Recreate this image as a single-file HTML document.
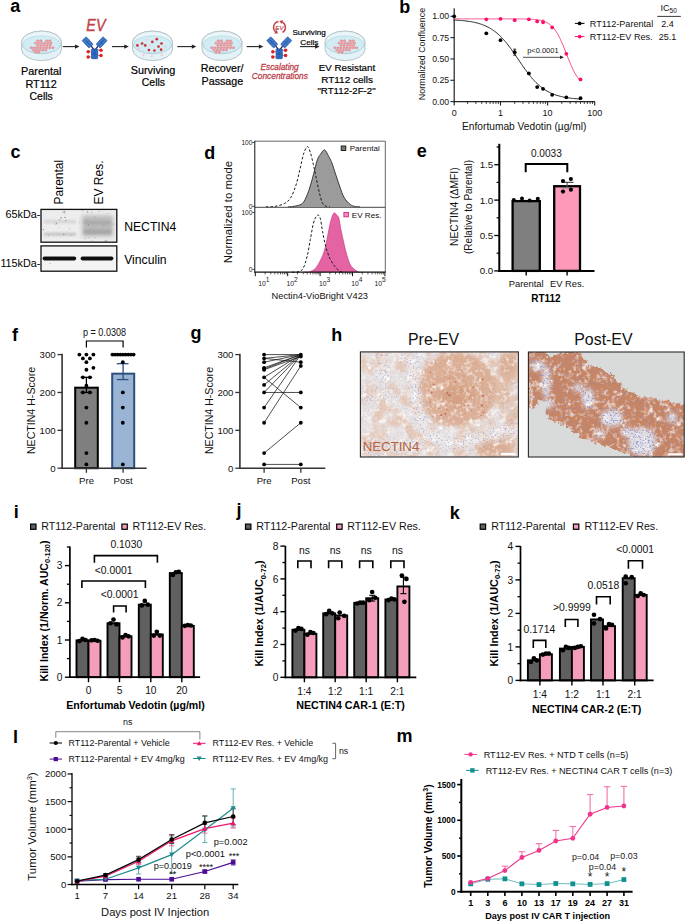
<!DOCTYPE html>
<html><head><meta charset="utf-8"><style>
html,body{margin:0;padding:0;background:#fff;}
body{width:685px;height:921px;overflow:hidden;}
svg{display:block;}
text{font-family:"Liberation Sans", sans-serif;}
</style></head><body>
<svg width="685" height="921" viewBox="0 0 685 921">
<rect width="685" height="921" fill="#fff"/>
<text x="10.3" y="12" font-size="18" font-weight="bold">a</text>
<path d="M21.5,42.4 L21.5,49.3 A20,11.3 0 0 0 61.5,49.3 L61.5,42.4 A20,11.3 0 0 0 21.5,42.4 Z" fill="#e2f2f6" stroke="#a9b7bd" stroke-width="0.8"/>
<ellipse cx="41.5" cy="42.4" rx="20" ry="11.3" fill="#eaf5f8" stroke="#aab8be" stroke-width="0.8"/>
<ellipse cx="41.5" cy="44.5" rx="18.9" ry="8.7" fill="#d2ecf4" stroke="#a9d3e0" stroke-width="0.6"/>
<ellipse cx="37.8" cy="40.8" rx="1.3" ry="0.95" fill="#ee9fa2" stroke="#df7c82" stroke-width="0.5"/>
<ellipse cx="40.9" cy="40.8" rx="1.3" ry="0.95" fill="#ee9fa2" stroke="#df7c82" stroke-width="0.5"/>
<ellipse cx="46.7" cy="40.8" rx="1.3" ry="0.95" fill="#ee9fa2" stroke="#df7c82" stroke-width="0.5"/>
<ellipse cx="49.8" cy="40.8" rx="1.3" ry="0.95" fill="#ee9fa2" stroke="#df7c82" stroke-width="0.5"/>
<ellipse cx="35.5" cy="43.1" rx="1.3" ry="0.95" fill="#ee9fa2" stroke="#df7c82" stroke-width="0.5"/>
<ellipse cx="38.6" cy="43.1" rx="1.3" ry="0.95" fill="#ee9fa2" stroke="#df7c82" stroke-width="0.5"/>
<ellipse cx="41.7" cy="43.1" rx="1.3" ry="0.95" fill="#ee9fa2" stroke="#df7c82" stroke-width="0.5"/>
<ellipse cx="44.8" cy="43.1" rx="1.3" ry="0.95" fill="#ee9fa2" stroke="#df7c82" stroke-width="0.5"/>
<ellipse cx="47.9" cy="43.1" rx="1.3" ry="0.95" fill="#ee9fa2" stroke="#df7c82" stroke-width="0.5"/>
<ellipse cx="51" cy="43.1" rx="1.3" ry="0.95" fill="#ee9fa2" stroke="#df7c82" stroke-width="0.5"/>
<ellipse cx="37.5" cy="45.4" rx="1.3" ry="0.95" fill="#ee9fa2" stroke="#df7c82" stroke-width="0.5"/>
<ellipse cx="40.6" cy="45.4" rx="1.3" ry="0.95" fill="#ee9fa2" stroke="#df7c82" stroke-width="0.5"/>
<ellipse cx="43.7" cy="45.4" rx="1.3" ry="0.95" fill="#ee9fa2" stroke="#df7c82" stroke-width="0.5"/>
<ellipse cx="46.8" cy="45.4" rx="1.3" ry="0.95" fill="#ee9fa2" stroke="#df7c82" stroke-width="0.5"/>
<ellipse cx="49.9" cy="45.4" rx="1.3" ry="0.95" fill="#ee9fa2" stroke="#df7c82" stroke-width="0.5"/>
<ellipse cx="31.3" cy="47.8" rx="1.3" ry="0.95" fill="#ee9fa2" stroke="#df7c82" stroke-width="0.5"/>
<ellipse cx="34.4" cy="47.8" rx="1.3" ry="0.95" fill="#ee9fa2" stroke="#df7c82" stroke-width="0.5"/>
<ellipse cx="37.5" cy="47.8" rx="1.3" ry="0.95" fill="#ee9fa2" stroke="#df7c82" stroke-width="0.5"/>
<ellipse cx="40.6" cy="47.8" rx="1.3" ry="0.95" fill="#ee9fa2" stroke="#df7c82" stroke-width="0.5"/>
<ellipse cx="43.7" cy="47.8" rx="1.3" ry="0.95" fill="#ee9fa2" stroke="#df7c82" stroke-width="0.5"/>
<ellipse cx="46.8" cy="47.8" rx="1.3" ry="0.95" fill="#ee9fa2" stroke="#df7c82" stroke-width="0.5"/>
<ellipse cx="49.9" cy="47.8" rx="1.3" ry="0.95" fill="#ee9fa2" stroke="#df7c82" stroke-width="0.5"/>
<ellipse cx="53" cy="47.8" rx="1.3" ry="0.95" fill="#ee9fa2" stroke="#df7c82" stroke-width="0.5"/>
<ellipse cx="33.4" cy="50.1" rx="1.3" ry="0.95" fill="#ee9fa2" stroke="#df7c82" stroke-width="0.5"/>
<ellipse cx="36.5" cy="50.1" rx="1.3" ry="0.95" fill="#ee9fa2" stroke="#df7c82" stroke-width="0.5"/>
<ellipse cx="39.6" cy="50.1" rx="1.3" ry="0.95" fill="#ee9fa2" stroke="#df7c82" stroke-width="0.5"/>
<ellipse cx="42.7" cy="50.1" rx="1.3" ry="0.95" fill="#ee9fa2" stroke="#df7c82" stroke-width="0.5"/>
<ellipse cx="45.8" cy="50.1" rx="1.3" ry="0.95" fill="#ee9fa2" stroke="#df7c82" stroke-width="0.5"/>
<ellipse cx="35.5" cy="52.2" rx="1.3" ry="0.95" fill="#ee9fa2" stroke="#df7c82" stroke-width="0.5"/>
<ellipse cx="38.6" cy="52.2" rx="1.3" ry="0.95" fill="#ee9fa2" stroke="#df7c82" stroke-width="0.5"/>
<path d="M132.5,42.4 L132.5,49.3 A20,11.3 0 0 0 172.5,49.3 L172.5,42.4 A20,11.3 0 0 0 132.5,42.4 Z" fill="#e2f2f6" stroke="#a9b7bd" stroke-width="0.8"/>
<ellipse cx="152.5" cy="42.4" rx="20" ry="11.3" fill="#eaf5f8" stroke="#aab8be" stroke-width="0.8"/>
<ellipse cx="152.5" cy="44.5" rx="18.9" ry="8.7" fill="#d2ecf4" stroke="#a9d3e0" stroke-width="0.6"/>
<circle cx="143.5" cy="55.2" r="1.1" fill="#f3c9cc" stroke="none" stroke-width="1"/>
<circle cx="151.9" cy="56.2" r="1.1" fill="#f3c9cc" stroke="none" stroke-width="1"/>
<circle cx="161.9" cy="55.2" r="1.1" fill="#f3c9cc" stroke="none" stroke-width="1"/>
<circle cx="146.2" cy="39.9" r="1.1" fill="#f3c9cc" stroke="none" stroke-width="1"/>
<circle cx="165.6" cy="46.6" r="1.1" fill="#f3c9cc" stroke="none" stroke-width="1"/>
<circle cx="139" cy="48.6" r="1.1" fill="#f3c9cc" stroke="none" stroke-width="1"/>
<circle cx="150" cy="45.5" r="1.1" fill="#f3c9cc" stroke="none" stroke-width="1"/>
<circle cx="137.4" cy="45.4" r="1.35" fill="#cf2f3a" stroke="none" stroke-width="1"/>
<circle cx="142.1" cy="43.5" r="1.35" fill="#cf2f3a" stroke="none" stroke-width="1"/>
<circle cx="145.2" cy="45.4" r="1.35" fill="#cf2f3a" stroke="none" stroke-width="1"/>
<circle cx="152.3" cy="41.9" r="1.35" fill="#cf2f3a" stroke="none" stroke-width="1"/>
<circle cx="156.8" cy="39.2" r="1.35" fill="#cf2f3a" stroke="none" stroke-width="1"/>
<circle cx="161.5" cy="43.5" r="1.35" fill="#cf2f3a" stroke="none" stroke-width="1"/>
<circle cx="158.5" cy="46.6" r="1.35" fill="#cf2f3a" stroke="none" stroke-width="1"/>
<circle cx="148.9" cy="50.1" r="1.35" fill="#cf2f3a" stroke="none" stroke-width="1"/>
<circle cx="154.4" cy="50.5" r="1.35" fill="#cf2f3a" stroke="none" stroke-width="1"/>
<circle cx="161.1" cy="49.7" r="1.35" fill="#cf2f3a" stroke="none" stroke-width="1"/>
<path d="M202,42.4 L202,49.3 A20,11.3 0 0 0 242,49.3 L242,42.4 A20,11.3 0 0 0 202,42.4 Z" fill="#e2f2f6" stroke="#a9b7bd" stroke-width="0.8"/>
<ellipse cx="222" cy="42.4" rx="20" ry="11.3" fill="#eaf5f8" stroke="#aab8be" stroke-width="0.8"/>
<ellipse cx="222" cy="44.5" rx="18.9" ry="8.7" fill="#d2ecf4" stroke="#a9d3e0" stroke-width="0.6"/>
<ellipse cx="218.3" cy="40.8" rx="1.3" ry="0.95" fill="#ee9fa2" stroke="#df7c82" stroke-width="0.5"/>
<ellipse cx="221.4" cy="40.8" rx="1.3" ry="0.95" fill="#ee9fa2" stroke="#df7c82" stroke-width="0.5"/>
<ellipse cx="227.2" cy="40.8" rx="1.3" ry="0.95" fill="#ee9fa2" stroke="#df7c82" stroke-width="0.5"/>
<ellipse cx="230.3" cy="40.8" rx="1.3" ry="0.95" fill="#ee9fa2" stroke="#df7c82" stroke-width="0.5"/>
<ellipse cx="216" cy="43.1" rx="1.3" ry="0.95" fill="#ee9fa2" stroke="#df7c82" stroke-width="0.5"/>
<ellipse cx="219.1" cy="43.1" rx="1.3" ry="0.95" fill="#ee9fa2" stroke="#df7c82" stroke-width="0.5"/>
<ellipse cx="222.2" cy="43.1" rx="1.3" ry="0.95" fill="#ee9fa2" stroke="#df7c82" stroke-width="0.5"/>
<ellipse cx="225.3" cy="43.1" rx="1.3" ry="0.95" fill="#ee9fa2" stroke="#df7c82" stroke-width="0.5"/>
<ellipse cx="228.4" cy="43.1" rx="1.3" ry="0.95" fill="#ee9fa2" stroke="#df7c82" stroke-width="0.5"/>
<ellipse cx="231.5" cy="43.1" rx="1.3" ry="0.95" fill="#ee9fa2" stroke="#df7c82" stroke-width="0.5"/>
<ellipse cx="218" cy="45.4" rx="1.3" ry="0.95" fill="#ee9fa2" stroke="#df7c82" stroke-width="0.5"/>
<ellipse cx="221.1" cy="45.4" rx="1.3" ry="0.95" fill="#ee9fa2" stroke="#df7c82" stroke-width="0.5"/>
<ellipse cx="224.2" cy="45.4" rx="1.3" ry="0.95" fill="#ee9fa2" stroke="#df7c82" stroke-width="0.5"/>
<ellipse cx="227.3" cy="45.4" rx="1.3" ry="0.95" fill="#ee9fa2" stroke="#df7c82" stroke-width="0.5"/>
<ellipse cx="230.4" cy="45.4" rx="1.3" ry="0.95" fill="#ee9fa2" stroke="#df7c82" stroke-width="0.5"/>
<ellipse cx="211.8" cy="47.8" rx="1.3" ry="0.95" fill="#ee9fa2" stroke="#df7c82" stroke-width="0.5"/>
<ellipse cx="214.9" cy="47.8" rx="1.3" ry="0.95" fill="#ee9fa2" stroke="#df7c82" stroke-width="0.5"/>
<ellipse cx="218" cy="47.8" rx="1.3" ry="0.95" fill="#ee9fa2" stroke="#df7c82" stroke-width="0.5"/>
<ellipse cx="221.1" cy="47.8" rx="1.3" ry="0.95" fill="#ee9fa2" stroke="#df7c82" stroke-width="0.5"/>
<ellipse cx="224.2" cy="47.8" rx="1.3" ry="0.95" fill="#ee9fa2" stroke="#df7c82" stroke-width="0.5"/>
<ellipse cx="227.3" cy="47.8" rx="1.3" ry="0.95" fill="#ee9fa2" stroke="#df7c82" stroke-width="0.5"/>
<ellipse cx="230.4" cy="47.8" rx="1.3" ry="0.95" fill="#ee9fa2" stroke="#df7c82" stroke-width="0.5"/>
<ellipse cx="233.5" cy="47.8" rx="1.3" ry="0.95" fill="#ee9fa2" stroke="#df7c82" stroke-width="0.5"/>
<ellipse cx="213.9" cy="50.1" rx="1.3" ry="0.95" fill="#ee9fa2" stroke="#df7c82" stroke-width="0.5"/>
<ellipse cx="217" cy="50.1" rx="1.3" ry="0.95" fill="#ee9fa2" stroke="#df7c82" stroke-width="0.5"/>
<ellipse cx="220.1" cy="50.1" rx="1.3" ry="0.95" fill="#ee9fa2" stroke="#df7c82" stroke-width="0.5"/>
<ellipse cx="223.2" cy="50.1" rx="1.3" ry="0.95" fill="#ee9fa2" stroke="#df7c82" stroke-width="0.5"/>
<ellipse cx="226.3" cy="50.1" rx="1.3" ry="0.95" fill="#ee9fa2" stroke="#df7c82" stroke-width="0.5"/>
<ellipse cx="216" cy="52.2" rx="1.3" ry="0.95" fill="#ee9fa2" stroke="#df7c82" stroke-width="0.5"/>
<ellipse cx="219.1" cy="52.2" rx="1.3" ry="0.95" fill="#ee9fa2" stroke="#df7c82" stroke-width="0.5"/>
<path d="M325,42.4 L325,49.3 A20,11.3 0 0 0 365,49.3 L365,42.4 A20,11.3 0 0 0 325,42.4 Z" fill="#e2f2f6" stroke="#a9b7bd" stroke-width="0.8"/>
<ellipse cx="345" cy="42.4" rx="20" ry="11.3" fill="#eaf5f8" stroke="#aab8be" stroke-width="0.8"/>
<ellipse cx="345" cy="44.5" rx="18.9" ry="8.7" fill="#d2ecf4" stroke="#a9d3e0" stroke-width="0.6"/>
<ellipse cx="341.3" cy="40.8" rx="1.3" ry="0.95" fill="#ee9fa2" stroke="#df7c82" stroke-width="0.5"/>
<ellipse cx="344.4" cy="40.8" rx="1.3" ry="0.95" fill="#ee9fa2" stroke="#df7c82" stroke-width="0.5"/>
<ellipse cx="350.2" cy="40.8" rx="1.3" ry="0.95" fill="#ee9fa2" stroke="#df7c82" stroke-width="0.5"/>
<ellipse cx="353.3" cy="40.8" rx="1.3" ry="0.95" fill="#ee9fa2" stroke="#df7c82" stroke-width="0.5"/>
<ellipse cx="339" cy="43.1" rx="1.3" ry="0.95" fill="#ee9fa2" stroke="#df7c82" stroke-width="0.5"/>
<ellipse cx="342.1" cy="43.1" rx="1.3" ry="0.95" fill="#ee9fa2" stroke="#df7c82" stroke-width="0.5"/>
<ellipse cx="345.2" cy="43.1" rx="1.3" ry="0.95" fill="#ee9fa2" stroke="#df7c82" stroke-width="0.5"/>
<ellipse cx="348.3" cy="43.1" rx="1.3" ry="0.95" fill="#ee9fa2" stroke="#df7c82" stroke-width="0.5"/>
<ellipse cx="351.4" cy="43.1" rx="1.3" ry="0.95" fill="#ee9fa2" stroke="#df7c82" stroke-width="0.5"/>
<ellipse cx="354.5" cy="43.1" rx="1.3" ry="0.95" fill="#ee9fa2" stroke="#df7c82" stroke-width="0.5"/>
<ellipse cx="341" cy="45.4" rx="1.3" ry="0.95" fill="#ee9fa2" stroke="#df7c82" stroke-width="0.5"/>
<ellipse cx="344.1" cy="45.4" rx="1.3" ry="0.95" fill="#ee9fa2" stroke="#df7c82" stroke-width="0.5"/>
<ellipse cx="347.2" cy="45.4" rx="1.3" ry="0.95" fill="#ee9fa2" stroke="#df7c82" stroke-width="0.5"/>
<ellipse cx="350.3" cy="45.4" rx="1.3" ry="0.95" fill="#ee9fa2" stroke="#df7c82" stroke-width="0.5"/>
<ellipse cx="353.4" cy="45.4" rx="1.3" ry="0.95" fill="#ee9fa2" stroke="#df7c82" stroke-width="0.5"/>
<ellipse cx="334.8" cy="47.8" rx="1.3" ry="0.95" fill="#ee9fa2" stroke="#df7c82" stroke-width="0.5"/>
<ellipse cx="337.9" cy="47.8" rx="1.3" ry="0.95" fill="#ee9fa2" stroke="#df7c82" stroke-width="0.5"/>
<ellipse cx="341" cy="47.8" rx="1.3" ry="0.95" fill="#ee9fa2" stroke="#df7c82" stroke-width="0.5"/>
<ellipse cx="344.1" cy="47.8" rx="1.3" ry="0.95" fill="#ee9fa2" stroke="#df7c82" stroke-width="0.5"/>
<ellipse cx="347.2" cy="47.8" rx="1.3" ry="0.95" fill="#ee9fa2" stroke="#df7c82" stroke-width="0.5"/>
<ellipse cx="350.3" cy="47.8" rx="1.3" ry="0.95" fill="#ee9fa2" stroke="#df7c82" stroke-width="0.5"/>
<ellipse cx="353.4" cy="47.8" rx="1.3" ry="0.95" fill="#ee9fa2" stroke="#df7c82" stroke-width="0.5"/>
<ellipse cx="356.5" cy="47.8" rx="1.3" ry="0.95" fill="#ee9fa2" stroke="#df7c82" stroke-width="0.5"/>
<ellipse cx="336.9" cy="50.1" rx="1.3" ry="0.95" fill="#ee9fa2" stroke="#df7c82" stroke-width="0.5"/>
<ellipse cx="340" cy="50.1" rx="1.3" ry="0.95" fill="#ee9fa2" stroke="#df7c82" stroke-width="0.5"/>
<ellipse cx="343.1" cy="50.1" rx="1.3" ry="0.95" fill="#ee9fa2" stroke="#df7c82" stroke-width="0.5"/>
<ellipse cx="346.2" cy="50.1" rx="1.3" ry="0.95" fill="#ee9fa2" stroke="#df7c82" stroke-width="0.5"/>
<ellipse cx="349.3" cy="50.1" rx="1.3" ry="0.95" fill="#ee9fa2" stroke="#df7c82" stroke-width="0.5"/>
<ellipse cx="339" cy="52.2" rx="1.3" ry="0.95" fill="#ee9fa2" stroke="#df7c82" stroke-width="0.5"/>
<ellipse cx="342.1" cy="52.2" rx="1.3" ry="0.95" fill="#ee9fa2" stroke="#df7c82" stroke-width="0.5"/>
<line x1="62.8" y1="46.6" x2="76.5" y2="46.6" stroke="#222" stroke-width="1.1"/>
<polygon points="79.5,46.6 75,44.4 75,48.8" fill="#222" stroke="none" stroke-width="1"/>
<line x1="112" y1="46.6" x2="125.8" y2="46.6" stroke="#222" stroke-width="1.1"/>
<polygon points="128.8,46.6 124.3,44.4 124.3,48.8" fill="#222" stroke="none" stroke-width="1"/>
<line x1="177.3" y1="46.6" x2="193.3" y2="46.6" stroke="#222" stroke-width="1.1"/>
<polygon points="196.3,46.6 191.8,44.4 191.8,48.8" fill="#222" stroke="none" stroke-width="1"/>
<line x1="246.6" y1="46.6" x2="260.4" y2="46.6" stroke="#222" stroke-width="1.1"/>
<polygon points="263.4,46.6 258.9,44.4 258.9,48.8" fill="#222" stroke="none" stroke-width="1"/>
<line x1="300" y1="46.6" x2="316.6" y2="46.6" stroke="#222" stroke-width="1.1"/>
<polygon points="319.6,46.6 315.1,44.4 315.1,48.8" fill="#222" stroke="none" stroke-width="1"/>
<g transform="translate(87.6 42.4) rotate(47)">
<rect x="-5.2" y="-2.85" width="10.4" height="2.75" rx="1.1" fill="#2f6fc6" stroke="#1c4d9e" stroke-width="0.6"/>
<rect x="-5.2" y="0.1" width="10.4" height="2.75" rx="1.1" fill="#2f6fc6" stroke="#1c4d9e" stroke-width="0.6"/>
<line x1="-4.4" y1="-1.5" x2="4.4" y2="-1.5" stroke="#7ea6da" stroke-width="0.45"/>
<line x1="-4.4" y1="1.5" x2="4.4" y2="1.5" stroke="#7ea6da" stroke-width="0.45"/>
<line x1="-0.3" y1="-2.85" x2="-0.3" y2="2.85" stroke="#1c4d9e" stroke-width="0.5"/>
</g>
<g transform="translate(101.6 42.4) rotate(-47)">
<rect x="-5.2" y="-2.85" width="10.4" height="2.75" rx="1.1" fill="#2f6fc6" stroke="#1c4d9e" stroke-width="0.6"/>
<rect x="-5.2" y="0.1" width="10.4" height="2.75" rx="1.1" fill="#2f6fc6" stroke="#1c4d9e" stroke-width="0.6"/>
<line x1="-4.4" y1="-1.5" x2="4.4" y2="-1.5" stroke="#7ea6da" stroke-width="0.45"/>
<line x1="-4.4" y1="1.5" x2="4.4" y2="1.5" stroke="#7ea6da" stroke-width="0.45"/>
<line x1="-0.3" y1="-2.85" x2="-0.3" y2="2.85" stroke="#1c4d9e" stroke-width="0.5"/>
</g>
<polyline points="91.2,46.2 93.7,49.4" stroke="#2b1f66" stroke-width="1.3" fill="none"/>
<polyline points="98,46.2 95.5,49.4" stroke="#2b1f66" stroke-width="1.3" fill="none"/>
<rect x="91.5" y="49" width="6.2" height="9.7" fill="#2f6fc6" stroke="#1c4d9e" stroke-width="0.7" rx="0.6"/>
<line x1="94.6" y1="49" x2="94.6" y2="58.7" stroke="#1c4d9e" stroke-width="0.6"/>
<line x1="91.5" y1="53.9" x2="97.7" y2="53.9" stroke="#1c4d9e" stroke-width="0.5"/>
<line x1="91.5" y1="51.7" x2="88.2" y2="51.7" stroke="#444" stroke-width="0.5"/>
<circle cx="88.2" cy="51.7" r="1.75" fill="#dd1f26" stroke="none" stroke-width="1"/>
<line x1="91.5" y1="57" x2="88.2" y2="57" stroke="#444" stroke-width="0.5"/>
<circle cx="88.2" cy="57" r="1.75" fill="#dd1f26" stroke="none" stroke-width="1"/>
<line x1="97.7" y1="50.2" x2="101" y2="50.2" stroke="#444" stroke-width="0.5"/>
<circle cx="101" cy="50.2" r="1.75" fill="#dd1f26" stroke="none" stroke-width="1"/>
<line x1="97.7" y1="55.5" x2="101" y2="55.5" stroke="#444" stroke-width="0.5"/>
<circle cx="101" cy="55.5" r="1.75" fill="#dd1f26" stroke="none" stroke-width="1"/>
<g transform="translate(272.2 42.4) rotate(47)">
<rect x="-5.2" y="-2.85" width="10.4" height="2.75" rx="1.1" fill="#2f6fc6" stroke="#1c4d9e" stroke-width="0.6"/>
<rect x="-5.2" y="0.1" width="10.4" height="2.75" rx="1.1" fill="#2f6fc6" stroke="#1c4d9e" stroke-width="0.6"/>
<line x1="-4.4" y1="-1.5" x2="4.4" y2="-1.5" stroke="#7ea6da" stroke-width="0.45"/>
<line x1="-4.4" y1="1.5" x2="4.4" y2="1.5" stroke="#7ea6da" stroke-width="0.45"/>
<line x1="-0.3" y1="-2.85" x2="-0.3" y2="2.85" stroke="#1c4d9e" stroke-width="0.5"/>
</g>
<g transform="translate(286.2 42.4) rotate(-47)">
<rect x="-5.2" y="-2.85" width="10.4" height="2.75" rx="1.1" fill="#2f6fc6" stroke="#1c4d9e" stroke-width="0.6"/>
<rect x="-5.2" y="0.1" width="10.4" height="2.75" rx="1.1" fill="#2f6fc6" stroke="#1c4d9e" stroke-width="0.6"/>
<line x1="-4.4" y1="-1.5" x2="4.4" y2="-1.5" stroke="#7ea6da" stroke-width="0.45"/>
<line x1="-4.4" y1="1.5" x2="4.4" y2="1.5" stroke="#7ea6da" stroke-width="0.45"/>
<line x1="-0.3" y1="-2.85" x2="-0.3" y2="2.85" stroke="#1c4d9e" stroke-width="0.5"/>
</g>
<polyline points="275.8,46.2 278.3,49.4" stroke="#2b1f66" stroke-width="1.3" fill="none"/>
<polyline points="282.6,46.2 280.1,49.4" stroke="#2b1f66" stroke-width="1.3" fill="none"/>
<rect x="276.1" y="49" width="6.2" height="9.7" fill="#2f6fc6" stroke="#1c4d9e" stroke-width="0.7" rx="0.6"/>
<line x1="279.2" y1="49" x2="279.2" y2="58.7" stroke="#1c4d9e" stroke-width="0.6"/>
<line x1="276.1" y1="53.9" x2="282.3" y2="53.9" stroke="#1c4d9e" stroke-width="0.5"/>
<line x1="276.1" y1="51.7" x2="272.8" y2="51.7" stroke="#444" stroke-width="0.5"/>
<circle cx="272.8" cy="51.7" r="1.75" fill="#dd1f26" stroke="none" stroke-width="1"/>
<line x1="276.1" y1="57" x2="272.8" y2="57" stroke="#444" stroke-width="0.5"/>
<circle cx="272.8" cy="57" r="1.75" fill="#dd1f26" stroke="none" stroke-width="1"/>
<line x1="282.3" y1="50.2" x2="285.6" y2="50.2" stroke="#444" stroke-width="0.5"/>
<circle cx="285.6" cy="50.2" r="1.75" fill="#dd1f26" stroke="none" stroke-width="1"/>
<line x1="282.3" y1="55.5" x2="285.6" y2="55.5" stroke="#444" stroke-width="0.5"/>
<circle cx="285.6" cy="55.5" r="1.75" fill="#dd1f26" stroke="none" stroke-width="1"/>
<text x="86.3" y="31" font-size="16.8" font-style="italic" fill="#c0454c" stroke="#c0454c" stroke-width="0.45" textLength="19.2" lengthAdjust="spacingAndGlyphs">EV</text>
<path d="M278.48,21.49 A5.9,5.9 0 0 0 276.12,32.13" fill="none" stroke="#c0454c" stroke-width="1.5"/>
<polygon points="278,33.45 274.2,33.48 276.72,29.87" fill="#c0454c" stroke="none" stroke-width="1"/>
<path d="M282.45,32.41 A5.9,5.9 0 0 0 281.52,21.76" fill="none" stroke="#c0454c" stroke-width="1.5"/>
<polygon points="279.36,20.97 283.02,19.96 281.52,24.1" fill="#c0454c" stroke="none" stroke-width="1"/>
<text x="279.4" y="29.6" font-size="6.2" text-anchor="middle" font-style="italic" fill="#c0454c" stroke="#c0454c" stroke-width="0.2">EV</text>
<text x="41.2" y="74.7" font-size="10.7" text-anchor="middle" stroke="#000" stroke-width="0.2" textLength="40.4" lengthAdjust="spacingAndGlyphs">Parental</text>
<text x="41.15" y="87.9" font-size="10.7" text-anchor="middle" stroke="#000" stroke-width="0.2" textLength="31.5" lengthAdjust="spacingAndGlyphs">RT112</text>
<text x="41.15" y="100.4" font-size="10.7" text-anchor="middle" stroke="#000" stroke-width="0.2" textLength="23.3" lengthAdjust="spacingAndGlyphs">Cells</text>
<text x="153" y="74.2" font-size="10.7" text-anchor="middle" stroke="#000" stroke-width="0.2" textLength="44.4" lengthAdjust="spacingAndGlyphs">Surviving</text>
<text x="153.45" y="86.1" font-size="10.7" text-anchor="middle" stroke="#000" stroke-width="0.2" textLength="23.3" lengthAdjust="spacingAndGlyphs">Cells</text>
<text x="222.15" y="72.4" font-size="10.7" text-anchor="middle" stroke="#000" stroke-width="0.2" textLength="42.9" lengthAdjust="spacingAndGlyphs">Recover/</text>
<text x="222.4" y="84.6" font-size="10.7" text-anchor="middle" stroke="#000" stroke-width="0.2" textLength="41.6" lengthAdjust="spacingAndGlyphs">Passage</text>
<text x="347" y="71.4" font-size="9.8" text-anchor="middle" stroke="#000" stroke-width="0.2" textLength="56.4" lengthAdjust="spacingAndGlyphs">EV Resistant</text>
<text x="347.05" y="83.2" font-size="9.8" text-anchor="middle" stroke="#000" stroke-width="0.2" textLength="51.7" lengthAdjust="spacingAndGlyphs">RT112 cells</text>
<text x="346.55" y="94.2" font-size="9.8" text-anchor="middle" stroke="#000" stroke-width="0.2" textLength="58.3" lengthAdjust="spacingAndGlyphs">"RT112-2F-2"</text>
<text x="279.6" y="69.6" font-size="9.6" text-anchor="middle" font-style="italic" fill="#bb4049" stroke="#bb4049" stroke-width="0.3" textLength="38.2" lengthAdjust="spacingAndGlyphs">Escalating</text>
<text x="279.85" y="79" font-size="9.6" text-anchor="middle" font-style="italic" fill="#bb4049" stroke="#bb4049" stroke-width="0.3" textLength="56" lengthAdjust="spacingAndGlyphs">Concentrations</text>
<text x="309.05" y="34.6" font-size="8.1" text-anchor="middle" stroke="#000" stroke-width="0.2" textLength="33.3" lengthAdjust="spacingAndGlyphs">Surviving</text>
<text x="309.3" y="44.5" font-size="8.1" text-anchor="middle" stroke="#000" stroke-width="0.2">Cells</text>
<text x="399.3" y="12.9" font-size="18" font-weight="bold">b</text>
<line x1="454.2" y1="8.2" x2="454.2" y2="102.2" stroke="#222" stroke-width="1.2"/>
<line x1="453.6" y1="101.6" x2="594.9" y2="101.6" stroke="#222" stroke-width="1.2"/>
<line x1="450.4" y1="16.3" x2="454.2" y2="16.3" stroke="#222" stroke-width="1.1"/>
<text x="449.2" y="19.4" font-size="8.7" text-anchor="end" fill="#111">1.00</text>
<line x1="450.4" y1="37.62" x2="454.2" y2="37.62" stroke="#222" stroke-width="1.1"/>
<text x="449.2" y="40.73" font-size="8.7" text-anchor="end" fill="#111">0.75</text>
<line x1="450.4" y1="58.95" x2="454.2" y2="58.95" stroke="#222" stroke-width="1.1"/>
<text x="449.2" y="62.05" font-size="8.7" text-anchor="end" fill="#111">0.50</text>
<line x1="450.4" y1="80.27" x2="454.2" y2="80.27" stroke="#222" stroke-width="1.1"/>
<text x="449.2" y="83.37" font-size="8.7" text-anchor="end" fill="#111">0.25</text>
<line x1="450.4" y1="101.6" x2="454.2" y2="101.6" stroke="#222" stroke-width="1.1"/>
<text x="449.2" y="104.7" font-size="8.7" text-anchor="end" fill="#111">0.00</text>
<line x1="454.2" y1="101.6" x2="454.2" y2="105.6" stroke="#222" stroke-width="1.1"/>
<text x="454.2" y="115.6" font-size="9" text-anchor="middle" fill="#111">0</text>
<line x1="500.5" y1="101.6" x2="500.5" y2="105.6" stroke="#222" stroke-width="1.1"/>
<text x="500.5" y="115.6" font-size="9" text-anchor="middle" fill="#111">1</text>
<line x1="547.6" y1="101.6" x2="547.6" y2="105.6" stroke="#222" stroke-width="1.1"/>
<text x="547.6" y="115.6" font-size="9" text-anchor="middle" fill="#111">10</text>
<line x1="594.7" y1="101.6" x2="594.7" y2="105.6" stroke="#222" stroke-width="1.1"/>
<text x="594.7" y="115.6" font-size="9" text-anchor="middle" fill="#111">100</text>
<line x1="467.58" y1="101.6" x2="467.58" y2="103.9" stroke="#222" stroke-width="0.9"/>
<line x1="475.87" y1="101.6" x2="475.87" y2="103.9" stroke="#222" stroke-width="0.9"/>
<line x1="481.76" y1="101.6" x2="481.76" y2="103.9" stroke="#222" stroke-width="0.9"/>
<line x1="486.32" y1="101.6" x2="486.32" y2="103.9" stroke="#222" stroke-width="0.9"/>
<line x1="490.05" y1="101.6" x2="490.05" y2="103.9" stroke="#222" stroke-width="0.9"/>
<line x1="493.2" y1="101.6" x2="493.2" y2="103.9" stroke="#222" stroke-width="0.9"/>
<line x1="495.94" y1="101.6" x2="495.94" y2="103.9" stroke="#222" stroke-width="0.9"/>
<line x1="498.34" y1="101.6" x2="498.34" y2="103.9" stroke="#222" stroke-width="0.9"/>
<line x1="514.68" y1="101.6" x2="514.68" y2="103.9" stroke="#222" stroke-width="0.9"/>
<line x1="522.97" y1="101.6" x2="522.97" y2="103.9" stroke="#222" stroke-width="0.9"/>
<line x1="528.86" y1="101.6" x2="528.86" y2="103.9" stroke="#222" stroke-width="0.9"/>
<line x1="533.42" y1="101.6" x2="533.42" y2="103.9" stroke="#222" stroke-width="0.9"/>
<line x1="537.15" y1="101.6" x2="537.15" y2="103.9" stroke="#222" stroke-width="0.9"/>
<line x1="540.3" y1="101.6" x2="540.3" y2="103.9" stroke="#222" stroke-width="0.9"/>
<line x1="543.04" y1="101.6" x2="543.04" y2="103.9" stroke="#222" stroke-width="0.9"/>
<line x1="545.44" y1="101.6" x2="545.44" y2="103.9" stroke="#222" stroke-width="0.9"/>
<line x1="561.78" y1="101.6" x2="561.78" y2="103.9" stroke="#222" stroke-width="0.9"/>
<line x1="570.07" y1="101.6" x2="570.07" y2="103.9" stroke="#222" stroke-width="0.9"/>
<line x1="575.96" y1="101.6" x2="575.96" y2="103.9" stroke="#222" stroke-width="0.9"/>
<line x1="580.52" y1="101.6" x2="580.52" y2="103.9" stroke="#222" stroke-width="0.9"/>
<line x1="584.25" y1="101.6" x2="584.25" y2="103.9" stroke="#222" stroke-width="0.9"/>
<line x1="587.4" y1="101.6" x2="587.4" y2="103.9" stroke="#222" stroke-width="0.9"/>
<line x1="590.14" y1="101.6" x2="590.14" y2="103.9" stroke="#222" stroke-width="0.9"/>
<line x1="592.54" y1="101.6" x2="592.54" y2="103.9" stroke="#222" stroke-width="0.9"/>
<text x="524.2" y="129.8" font-size="10.2" text-anchor="middle" fill="#111">Enfortumab Vedotin (µg/ml)</text>
<text x="425.4" y="54" font-size="8.9" text-anchor="middle" fill="#111" transform="rotate(-90 425.4 54)">Normalized Confluence</text>
<polyline points="453.4,19.97 454.31,20.01 455.22,20.06 456.13,20.11 457.03,20.17 457.94,20.23 458.85,20.3 459.76,20.36 460.67,20.44 461.58,20.52 462.48,20.6 463.39,20.69 464.3,20.78 465.21,20.88 466.12,20.99 467.03,21.11 467.93,21.23 468.84,21.36 469.75,21.5 470.66,21.64 471.57,21.8 472.48,21.97 473.38,22.15 474.29,22.34 475.2,22.54 476.11,22.75 477.02,22.98 477.93,23.22 478.83,23.48 479.74,23.75 480.65,24.04 481.56,24.35 482.47,24.68 483.38,25.02 484.28,25.39 485.19,25.77 486.1,26.18 487.01,26.61 487.92,27.07 488.83,27.55 489.73,28.06 490.64,28.59 491.55,29.16 492.46,29.75 493.37,30.37 494.28,31.02 495.18,31.71 496.09,32.42 497,33.17 497.91,33.95 498.82,34.77 499.73,35.62 500.63,36.5 501.54,37.42 502.45,38.38 503.36,39.36 504.27,40.38 505.18,41.44 506.08,42.52 506.99,43.64 507.9,44.79 508.81,45.96 509.72,47.17 510.63,48.39 511.53,49.64 512.44,50.91 513.35,52.2 514.26,53.51 515.17,54.82 516.08,56.15 516.99,57.49 517.89,58.83 518.8,60.17 519.71,61.51 520.62,62.85 521.53,64.18 522.44,65.5 523.34,66.8 524.25,68.1 525.16,69.37 526.07,70.62 526.98,71.85 527.89,73.06 528.79,74.24 529.7,75.39 530.61,76.51 531.52,77.6 532.43,78.66 533.34,79.68 534.24,80.67 535.15,81.63 536.06,82.56 536.97,83.44 537.88,84.3 538.79,85.12 539.69,85.91 540.6,86.66 541.51,87.38 542.42,88.07 543.33,88.73 544.24,89.35 545.14,89.95 546.05,90.51 546.96,91.05 547.87,91.56 548.78,92.05 549.69,92.51 550.59,92.94 551.5,93.35 552.41,93.74 553.32,94.11 554.23,94.46 555.14,94.79 556.04,95.1 556.95,95.39 557.86,95.66 558.77,95.92 559.68,96.17 560.59,96.4 561.49,96.61 562.4,96.82 563.31,97.01 564.22,97.19 565.13,97.36 566.04,97.51 566.94,97.66 567.85,97.8 568.76,97.93 569.67,98.06 570.58,98.17 571.49,98.28 572.39,98.38 573.3,98.48 574.21,98.57 575.12,98.65 576.03,98.73 576.94,98.81 577.84,98.88 578.75,98.94 579.66,99 580.57,99.06" stroke="#222" stroke-width="1" fill="none"/>
<polyline points="453.4,18.86 454.31,18.86 455.22,18.86 456.13,18.86 457.03,18.86 457.94,18.86 458.85,18.86 459.76,18.86 460.67,18.86 461.58,18.86 462.48,18.86 463.39,18.86 464.3,18.86 465.21,18.86 466.12,18.86 467.03,18.86 467.93,18.86 468.84,18.86 469.75,18.86 470.66,18.86 471.57,18.86 472.48,18.86 473.38,18.86 474.29,18.86 475.2,18.86 476.11,18.86 477.02,18.86 477.93,18.86 478.83,18.86 479.74,18.86 480.65,18.86 481.56,18.86 482.47,18.86 483.38,18.86 484.28,18.86 485.19,18.86 486.1,18.86 487.01,18.86 487.92,18.86 488.83,18.86 489.73,18.86 490.64,18.86 491.55,18.86 492.46,18.86 493.37,18.86 494.28,18.86 495.18,18.86 496.09,18.86 497,18.86 497.91,18.86 498.82,18.86 499.73,18.86 500.63,18.86 501.54,18.86 502.45,18.86 503.36,18.87 504.27,18.87 505.18,18.87 506.08,18.87 506.99,18.87 507.9,18.87 508.81,18.87 509.72,18.88 510.63,18.88 511.53,18.88 512.44,18.88 513.35,18.89 514.26,18.89 515.17,18.9 516.08,18.9 516.99,18.91 517.89,18.92 518.8,18.92 519.71,18.93 520.62,18.94 521.53,18.96 522.44,18.97 523.34,18.98 524.25,19 525.16,19.02 526.07,19.05 526.98,19.07 527.89,19.1 528.79,19.14 529.7,19.18 530.61,19.22 531.52,19.27 532.43,19.33 533.34,19.4 534.24,19.48 535.15,19.56 536.06,19.66 536.97,19.78 537.88,19.91 538.79,20.05 539.69,20.22 540.6,20.41 541.51,20.62 542.42,20.87 543.33,21.15 544.24,21.46 545.14,21.81 546.05,22.21 546.96,22.67 547.87,23.18 548.78,23.75 549.69,24.39 550.59,25.11 551.5,25.91 552.41,26.8 553.32,27.79 554.23,28.88 555.14,30.08 556.04,31.39 556.95,32.82 557.86,34.36 558.77,36.03 559.68,37.82 560.59,39.71 561.49,41.71 562.4,43.81 563.31,45.98 564.22,48.23 565.13,50.52 566.04,52.84 566.94,55.16 567.85,57.48 568.76,59.77 569.67,62 570.58,64.17 571.49,66.25 572.39,68.23 573.3,70.11 574.21,71.88 575.12,73.53 576.03,75.06 576.94,76.47 577.84,77.77 578.75,78.95 579.66,80.03 580.57,81" stroke="#f7508c" stroke-width="1" fill="none"/>
<circle cx="486.32" cy="19.29" r="1.9" fill="#fb0f6c" stroke="none" stroke-width="1"/>
<circle cx="500.5" cy="18.86" r="1.9" fill="#fb0f6c" stroke="none" stroke-width="1"/>
<circle cx="514.68" cy="20.14" r="1.9" fill="#fb0f6c" stroke="none" stroke-width="1"/>
<circle cx="528.86" cy="19.29" r="1.9" fill="#fb0f6c" stroke="none" stroke-width="1"/>
<circle cx="537.15" cy="21.42" r="1.9" fill="#fb0f6c" stroke="none" stroke-width="1"/>
<circle cx="543.04" cy="22.27" r="1.9" fill="#fb0f6c" stroke="none" stroke-width="1"/>
<circle cx="552.16" cy="27.39" r="1.9" fill="#fb0f6c" stroke="none" stroke-width="1"/>
<circle cx="566.34" cy="53.83" r="1.9" fill="#fb0f6c" stroke="none" stroke-width="1"/>
<circle cx="580.52" cy="79.42" r="1.9" fill="#fb0f6c" stroke="none" stroke-width="1"/>
<circle cx="454.2" cy="16.3" r="1.9" fill="#000" stroke="none" stroke-width="1"/>
<circle cx="486.32" cy="33.36" r="1.9" fill="#000" stroke="none" stroke-width="1"/>
<circle cx="500.5" cy="40.18" r="1.9" fill="#000" stroke="none" stroke-width="1"/>
<circle cx="514.68" cy="52.13" r="1.9" fill="#000" stroke="none" stroke-width="1"/>
<circle cx="528.86" cy="73.45" r="1.9" fill="#000" stroke="none" stroke-width="1"/>
<circle cx="537.15" cy="87.1" r="1.9" fill="#000" stroke="none" stroke-width="1"/>
<circle cx="543.04" cy="88.8" r="1.9" fill="#000" stroke="none" stroke-width="1"/>
<circle cx="552.16" cy="94.78" r="1.9" fill="#000" stroke="none" stroke-width="1"/>
<circle cx="566.34" cy="97.33" r="1.9" fill="#000" stroke="none" stroke-width="1"/>
<circle cx="580.52" cy="98.19" r="1.9" fill="#000" stroke="none" stroke-width="1"/>
<line x1="514.68" y1="55.11" x2="514.68" y2="49.14" stroke="#000" stroke-width="0.8"/>
<line x1="513.18" y1="49.14" x2="516.18" y2="49.14" stroke="#000" stroke-width="0.8"/>
<line x1="513.18" y1="55.11" x2="516.18" y2="55.11" stroke="#000" stroke-width="0.8"/>
<line x1="541.54" y1="20.14" x2="544.54" y2="20.14" stroke="#fb0f6c" stroke-width="0.8"/>
<line x1="522.9" y1="57.3" x2="561" y2="57.3" stroke="#222" stroke-width="0.8"/>
<polygon points="564,57.3 560,55.5 560,59.1" fill="#222" stroke="none" stroke-width="1"/>
<text x="542.9" y="52.6" font-size="7.5" text-anchor="middle" fill="#111">p&lt;0.0001</text>
<line x1="574.9" y1="23.4" x2="584.5" y2="23.4" stroke="#000" stroke-width="1"/>
<circle cx="579.7" cy="23.4" r="1.9" fill="#000" stroke="none" stroke-width="1"/>
<text x="589.8" y="26.6" font-size="9.1" fill="#111">RT112-Parental</text>
<line x1="574.9" y1="36.6" x2="584.5" y2="36.6" stroke="#fb0f6c" stroke-width="1"/>
<circle cx="579.7" cy="36.6" r="1.9" fill="#fb0f6c" stroke="none" stroke-width="1"/>
<text x="589.8" y="39.8" font-size="9.1" fill="#111">RT112-EV Res.</text>
<text x="660.5" y="10.8" font-size="9.1" fill="#111">IC<tspan font-size="6.5" dy="2.2">50</tspan></text>
<line x1="657.3" y1="16.4" x2="680.9" y2="16.4" stroke="#222" stroke-width="0.9"/>
<text x="667.5" y="26.6" font-size="9.1" text-anchor="middle" fill="#111">2.4</text>
<text x="667.5" y="39.8" font-size="9.1" text-anchor="middle" fill="#111">25.1</text>
<text x="10.4" y="158" font-size="18" font-weight="bold">c</text>
<text x="62.6" y="204.5" font-size="12" transform="rotate(-90 62.6 204.5)">Parental</text>
<text x="103.2" y="204.5" font-size="12" transform="rotate(-90 103.2 204.5)">EV Res.</text>
<text x="40.4" y="218.4" font-size="10.8" text-anchor="end">65kDa-</text>
<text x="40.4" y="266.8" font-size="10.8" text-anchor="end">115kDa-</text>
<text x="124.2" y="230.7" font-size="12.2">NECTIN4</text>
<text x="124.2" y="263.6" font-size="12.2">Vinculin</text>
<defs>
<filter id="blur1" x="-20%" y="-50%" width="140%" height="200%"><feGaussianBlur stdDeviation="1.2"/></filter>
<filter id="blur2" x="-20%" y="-50%" width="140%" height="200%"><feGaussianBlur stdDeviation="2.2"/></filter>
<filter id="blur06" x="-20%" y="-50%" width="140%" height="200%"><feGaussianBlur stdDeviation="0.6"/></filter>
<clipPath id="blotclip1"><rect x="41" y="209.4" width="75.8" height="32.8"/></clipPath>
</defs>
<rect x="41" y="209.4" width="75.8" height="32.8" fill="#ededed" stroke="none" stroke-width="1"/>
<g clip-path="url(#blotclip1)">
<rect x="44" y="219.8" width="32" height="3.6" fill="#d6d6d6" stroke="none" stroke-width="1" filter="url(#blur1)"/>
<rect x="44" y="232.6" width="32" height="3.2" fill="#c4c4c4" stroke="none" stroke-width="1" filter="url(#blur1)"/>
<rect x="82" y="215.5" width="31" height="21" fill="#b9b9b9" stroke="none" stroke-width="1" filter="url(#blur2)"/>
<rect x="84" y="221" width="27" height="3.5" fill="#a9a9a9" stroke="none" stroke-width="1" filter="url(#blur1)"/>
<rect x="84" y="229.5" width="27" height="4.5" fill="#a7a7a7" stroke="none" stroke-width="1" filter="url(#blur1)"/>
<circle cx="59.61" cy="227.37" r="0.48" fill="#aaa" stroke="none" stroke-width="1"/>
<circle cx="88.3" cy="212.53" r="0.35" fill="#aaa" stroke="none" stroke-width="1"/>
<circle cx="61.19" cy="217.76" r="0.7" fill="#888" stroke="none" stroke-width="1"/>
<circle cx="103.9" cy="225.27" r="0.57" fill="#888" stroke="none" stroke-width="1"/>
<circle cx="88.98" cy="237.41" r="0.53" fill="#aaa" stroke="none" stroke-width="1"/>
<circle cx="91.68" cy="212.48" r="0.62" fill="#aaa" stroke="none" stroke-width="1"/>
<circle cx="64.29" cy="211.46" r="0.65" fill="#888" stroke="none" stroke-width="1"/>
<circle cx="95.19" cy="237.74" r="0.6" fill="#aaa" stroke="none" stroke-width="1"/>
<circle cx="71.23" cy="235.33" r="0.51" fill="#aaa" stroke="none" stroke-width="1"/>
<circle cx="107.04" cy="213.52" r="0.4" fill="#888" stroke="none" stroke-width="1"/>
<circle cx="113.45" cy="224.02" r="0.57" fill="#888" stroke="none" stroke-width="1"/>
<circle cx="79.54" cy="222.46" r="0.47" fill="#aaa" stroke="none" stroke-width="1"/>
<circle cx="85.23" cy="238.53" r="0.59" fill="#aaa" stroke="none" stroke-width="1"/>
<circle cx="105.37" cy="241.22" r="0.58" fill="#888" stroke="none" stroke-width="1"/>
<circle cx="105.69" cy="240.4" r="0.67" fill="#aaa" stroke="none" stroke-width="1"/>
<circle cx="94.82" cy="217.04" r="0.64" fill="#aaa" stroke="none" stroke-width="1"/>
<circle cx="63.09" cy="212.47" r="0.65" fill="#aaa" stroke="none" stroke-width="1"/>
<circle cx="48.55" cy="235.32" r="0.49" fill="#888" stroke="none" stroke-width="1"/>
<circle cx="63.75" cy="234.33" r="0.66" fill="#888" stroke="none" stroke-width="1"/>
<circle cx="87.48" cy="211.89" r="0.6" fill="#888" stroke="none" stroke-width="1"/>
<circle cx="107.19" cy="240.9" r="0.53" fill="#aaa" stroke="none" stroke-width="1"/>
<circle cx="64.92" cy="212.89" r="0.56" fill="#888" stroke="none" stroke-width="1"/>
<circle cx="56.61" cy="223.15" r="0.56" fill="#888" stroke="none" stroke-width="1"/>
<circle cx="45.14" cy="237.4" r="0.46" fill="#aaa" stroke="none" stroke-width="1"/>
<circle cx="108.35" cy="222.21" r="0.51" fill="#aaa" stroke="none" stroke-width="1"/>
<circle cx="89.65" cy="228.97" r="0.55" fill="#aaa" stroke="none" stroke-width="1"/>
<circle cx="111.61" cy="226.22" r="0.5" fill="#aaa" stroke="none" stroke-width="1"/>
<circle cx="59.59" cy="219.83" r="0.69" fill="#aaa" stroke="none" stroke-width="1"/>
<circle cx="82.58" cy="210.86" r="0.5" fill="#aaa" stroke="none" stroke-width="1"/>
<circle cx="43.48" cy="229.59" r="0.57" fill="#888" stroke="none" stroke-width="1"/>
<circle cx="88.42" cy="224.95" r="0.59" fill="#888" stroke="none" stroke-width="1"/>
<circle cx="94.31" cy="233.38" r="0.36" fill="#888" stroke="none" stroke-width="1"/>
<circle cx="92.03" cy="240.36" r="0.44" fill="#888" stroke="none" stroke-width="1"/>
<circle cx="85.86" cy="220.42" r="0.48" fill="#888" stroke="none" stroke-width="1"/>
<circle cx="69.32" cy="228.96" r="0.46" fill="#888" stroke="none" stroke-width="1"/>
<circle cx="99.15" cy="211.33" r="0.55" fill="#aaa" stroke="none" stroke-width="1"/>
<circle cx="64.94" cy="217.4" r="0.63" fill="#888" stroke="none" stroke-width="1"/>
<circle cx="55.87" cy="223.99" r="0.59" fill="#888" stroke="none" stroke-width="1"/>
<circle cx="65.83" cy="220.85" r="0.64" fill="#888" stroke="none" stroke-width="1"/>
<circle cx="105.31" cy="215.75" r="0.47" fill="#aaa" stroke="none" stroke-width="1"/>
</g>
<rect x="41" y="209.4" width="75.8" height="32.8" fill="none" stroke="#111" stroke-width="1.3"/>
<rect x="41" y="245.9" width="75.8" height="25.3" fill="#f3f3f3" stroke="#111" stroke-width="1.3"/>
<g filter="url(#blur06)">
<rect x="42.6" y="256.5" width="33.6" height="3.9" fill="#111" stroke="none" stroke-width="1" rx="1.8"/>
<rect x="80.6" y="256.6" width="32.8" height="3.8" fill="#111" stroke="none" stroke-width="1" rx="1.8"/>
</g>
<circle cx="50" cy="263.5" r="0.5" fill="#999" stroke="none" stroke-width="1"/>
<text x="204.2" y="159.4" font-size="18" font-weight="bold">d</text>
<path d="M288,206.8 C288.82,206.75 290.72,206.9 292.9,206.5 C295.08,206.1 299.05,205.6 301.1,204.4 C303.15,203.2 303.83,201.85 305.2,199.3 C306.57,196.75 308.12,192.5 309.3,189.1 C310.48,185.7 311.35,182.3 312.3,178.9 C313.25,175.5 314.15,171.93 315,168.7 C315.85,165.47 316.48,161.9 317.4,159.5 C318.32,157.1 319.3,155.9 320.5,154.3 C321.7,152.7 323.23,149.55 324.6,149.9 C325.97,150.25 327.52,154.3 328.7,156.4 C329.88,158.5 330.52,159.43 331.7,162.5 C332.88,165.57 334.43,170.72 335.8,174.8 C337.17,178.88 338.53,183.25 339.9,187 C341.27,190.75 342.3,194.4 344,197.3 C345.7,200.2 348.22,202.87 350.1,204.4 C351.98,205.93 353.65,206.1 355.3,206.5 C356.95,206.9 359.22,206.75 360,206.8 Z" fill="#9b9b9b" stroke="none" stroke-width="1"/>
<path d="M288,206.8 C288.82,206.75 290.72,206.9 292.9,206.5 C295.08,206.1 299.05,205.6 301.1,204.4 C303.15,203.2 303.83,201.85 305.2,199.3 C306.57,196.75 308.12,192.5 309.3,189.1 C310.48,185.7 311.35,182.3 312.3,178.9 C313.25,175.5 314.15,171.93 315,168.7 C315.85,165.47 316.48,161.9 317.4,159.5 C318.32,157.1 319.3,155.9 320.5,154.3 C321.7,152.7 323.23,149.55 324.6,149.9 C325.97,150.25 327.52,154.3 328.7,156.4 C329.88,158.5 330.52,159.43 331.7,162.5 C332.88,165.57 334.43,170.72 335.8,174.8 C337.17,178.88 338.53,183.25 339.9,187 C341.27,190.75 342.3,194.4 344,197.3 C345.7,200.2 348.22,202.87 350.1,204.4 C351.98,205.93 353.65,206.1 355.3,206.5 C356.95,206.9 359.22,206.75 360,206.8" fill="none" stroke="#2a2a2a" stroke-width="0.9"/>
<path d="M266,206.8 C267.42,206.75 271.38,207.07 274.5,206.5 C277.62,205.93 281.97,204.93 284.7,203.4 C287.43,201.87 289.02,200.37 290.9,197.3 C292.78,194.23 294.47,189.77 296,185 C297.53,180.23 298.85,173.82 300.1,168.7 C301.35,163.58 302.32,157.98 303.5,154.3 C304.68,150.62 306.07,146.93 307.2,146.6 C308.33,146.27 309.27,149.3 310.3,152.3 C311.33,155.3 312.38,160.17 313.4,164.6 C314.42,169.03 315.38,174.13 316.4,178.9 C317.42,183.67 318.47,189.12 319.5,193.2 C320.53,197.28 321.42,201.18 322.6,203.4 C323.78,205.62 325.37,205.93 326.6,206.5 C327.83,207.07 329.43,206.75 330,206.8" fill="none" stroke="#1a1a1a" stroke-width="1" stroke-dasharray="2.6 1.9"/>
<path d="M304,272.2 C304.88,272.15 307.4,272.53 309.3,271.9 C311.2,271.27 313.53,270.35 315.4,268.4 C317.27,266.45 318.97,263.27 320.5,260.2 C322.03,257.13 323.4,254.08 324.6,250 C325.8,245.92 326.68,240.48 327.7,235.7 C328.72,230.92 329.68,225.05 330.7,221.3 C331.72,217.55 332.77,214.22 333.8,213.2 C334.83,212.18 336.05,214.35 336.9,215.2 C337.75,216.05 338.23,215.92 338.9,218.3 C339.57,220.68 340.05,225.25 340.9,229.5 C341.75,233.75 342.97,239.37 344,243.8 C345.03,248.23 345.9,252.35 347.1,256.1 C348.3,259.85 349.33,263.67 351.2,266.3 C353.07,268.93 356.5,270.92 358.3,271.9 C360.1,272.88 361.38,272.15 362,272.2 Z" fill="#e463a3" stroke="none" stroke-width="1"/>
<path d="M304,272.2 C304.88,272.15 307.4,272.53 309.3,271.9 C311.2,271.27 313.53,270.35 315.4,268.4 C317.27,266.45 318.97,263.27 320.5,260.2 C322.03,257.13 323.4,254.08 324.6,250 C325.8,245.92 326.68,240.48 327.7,235.7 C328.72,230.92 329.68,225.05 330.7,221.3 C331.72,217.55 332.77,214.22 333.8,213.2 C334.83,212.18 336.05,214.35 336.9,215.2 C337.75,216.05 338.23,215.92 338.9,218.3 C339.57,220.68 340.05,225.25 340.9,229.5 C341.75,233.75 342.97,239.37 344,243.8 C345.03,248.23 345.9,252.35 347.1,256.1 C348.3,259.85 349.33,263.67 351.2,266.3 C353.07,268.93 356.5,270.92 358.3,271.9 C360.1,272.88 361.38,272.15 362,272.2" fill="none" stroke="#d2428e" stroke-width="0.8"/>
<path d="M292,272.2 C293,272.15 296.15,272.53 298,271.9 C299.85,271.27 301.57,271.03 303.1,268.4 C304.63,265.77 306,260.88 307.2,256.1 C308.4,251.32 309.27,245.15 310.3,239.7 C311.33,234.25 312.38,227.32 313.4,223.4 C314.42,219.48 315.55,217.57 316.4,216.2 C317.25,214.83 317.82,214.68 318.5,215.2 C319.18,215.72 319.82,216.57 320.5,219.3 C321.18,222.03 321.75,227.17 322.6,231.6 C323.45,236.03 324.42,241.48 325.6,245.9 C326.78,250.32 328.17,254.7 329.7,258.1 C331.23,261.5 333.1,264.08 334.8,266.3 C336.5,268.52 338.37,270.42 339.9,271.4 C341.43,272.38 343.32,272.07 344,272.2" fill="none" stroke="#1a1a1a" stroke-width="1" stroke-dasharray="2.6 1.9"/>
<line x1="254.8" y1="141.2" x2="385.3" y2="141.2" stroke="#555" stroke-width="0.9"/>
<line x1="385.3" y1="141.2" x2="385.3" y2="272.2" stroke="#555" stroke-width="0.9"/>
<line x1="254.8" y1="207.3" x2="385.3" y2="207.3" stroke="#444" stroke-width="1"/>
<line x1="254.8" y1="140.8" x2="254.8" y2="272.6" stroke="#111" stroke-width="1"/>
<line x1="254.3" y1="272.2" x2="385.6" y2="272.2" stroke="#111" stroke-width="1.2"/>
<line x1="252.3" y1="142.5" x2="254.8" y2="142.5" stroke="#222" stroke-width="0.8"/>
<text x="252.4" y="144.9" font-size="6.6" text-anchor="end" fill="#222">100</text>
<line x1="252.3" y1="206.4" x2="254.8" y2="206.4" stroke="#222" stroke-width="0.8"/>
<text x="252.4" y="208.8" font-size="6.6" text-anchor="end" fill="#222">0</text>
<line x1="252.3" y1="212.5" x2="254.8" y2="212.5" stroke="#222" stroke-width="0.8"/>
<text x="252.4" y="214.9" font-size="6.6" text-anchor="end" fill="#222">100</text>
<line x1="252.3" y1="269.4" x2="254.8" y2="269.4" stroke="#222" stroke-width="0.8"/>
<text x="252.4" y="271.8" font-size="6.6" text-anchor="end" fill="#222">0</text>
<line x1="255.3" y1="272.2" x2="255.3" y2="276.2" stroke="#111" stroke-width="1"/>
<text x="258.2" y="286.2" font-size="6.8" fill="#222">10<tspan dy="-4.4" font-size="6.7">1</tspan></text>
<line x1="265.05" y1="272.2" x2="265.05" y2="274.4" stroke="#111" stroke-width="0.7"/>
<line x1="270.76" y1="272.2" x2="270.76" y2="274.4" stroke="#111" stroke-width="0.7"/>
<line x1="274.81" y1="272.2" x2="274.81" y2="274.4" stroke="#111" stroke-width="0.7"/>
<line x1="277.95" y1="272.2" x2="277.95" y2="274.4" stroke="#111" stroke-width="0.7"/>
<line x1="280.51" y1="272.2" x2="280.51" y2="274.4" stroke="#111" stroke-width="0.7"/>
<line x1="282.68" y1="272.2" x2="282.68" y2="274.4" stroke="#111" stroke-width="0.7"/>
<line x1="284.56" y1="272.2" x2="284.56" y2="274.4" stroke="#111" stroke-width="0.7"/>
<line x1="286.22" y1="272.2" x2="286.22" y2="274.4" stroke="#111" stroke-width="0.7"/>
<line x1="287.7" y1="272.2" x2="287.7" y2="276.2" stroke="#111" stroke-width="1"/>
<text x="286.5" y="286.2" font-size="6.8" fill="#222">10<tspan dy="-4.4" font-size="6.7">2</tspan></text>
<line x1="297.45" y1="272.2" x2="297.45" y2="274.4" stroke="#111" stroke-width="0.7"/>
<line x1="303.16" y1="272.2" x2="303.16" y2="274.4" stroke="#111" stroke-width="0.7"/>
<line x1="307.21" y1="272.2" x2="307.21" y2="274.4" stroke="#111" stroke-width="0.7"/>
<line x1="310.35" y1="272.2" x2="310.35" y2="274.4" stroke="#111" stroke-width="0.7"/>
<line x1="312.91" y1="272.2" x2="312.91" y2="274.4" stroke="#111" stroke-width="0.7"/>
<line x1="315.08" y1="272.2" x2="315.08" y2="274.4" stroke="#111" stroke-width="0.7"/>
<line x1="316.96" y1="272.2" x2="316.96" y2="274.4" stroke="#111" stroke-width="0.7"/>
<line x1="318.62" y1="272.2" x2="318.62" y2="274.4" stroke="#111" stroke-width="0.7"/>
<line x1="320.1" y1="272.2" x2="320.1" y2="276.2" stroke="#111" stroke-width="1"/>
<text x="318.9" y="286.2" font-size="6.8" fill="#222">10<tspan dy="-4.4" font-size="6.7">3</tspan></text>
<line x1="329.85" y1="272.2" x2="329.85" y2="274.4" stroke="#111" stroke-width="0.7"/>
<line x1="335.56" y1="272.2" x2="335.56" y2="274.4" stroke="#111" stroke-width="0.7"/>
<line x1="339.61" y1="272.2" x2="339.61" y2="274.4" stroke="#111" stroke-width="0.7"/>
<line x1="342.75" y1="272.2" x2="342.75" y2="274.4" stroke="#111" stroke-width="0.7"/>
<line x1="345.31" y1="272.2" x2="345.31" y2="274.4" stroke="#111" stroke-width="0.7"/>
<line x1="347.48" y1="272.2" x2="347.48" y2="274.4" stroke="#111" stroke-width="0.7"/>
<line x1="349.36" y1="272.2" x2="349.36" y2="274.4" stroke="#111" stroke-width="0.7"/>
<line x1="351.02" y1="272.2" x2="351.02" y2="274.4" stroke="#111" stroke-width="0.7"/>
<line x1="352.5" y1="272.2" x2="352.5" y2="276.2" stroke="#111" stroke-width="1"/>
<text x="351.3" y="286.2" font-size="6.8" fill="#222">10<tspan dy="-4.4" font-size="6.7">4</tspan></text>
<line x1="362.25" y1="272.2" x2="362.25" y2="274.4" stroke="#111" stroke-width="0.7"/>
<line x1="367.96" y1="272.2" x2="367.96" y2="274.4" stroke="#111" stroke-width="0.7"/>
<line x1="372.01" y1="272.2" x2="372.01" y2="274.4" stroke="#111" stroke-width="0.7"/>
<line x1="375.15" y1="272.2" x2="375.15" y2="274.4" stroke="#111" stroke-width="0.7"/>
<line x1="377.71" y1="272.2" x2="377.71" y2="274.4" stroke="#111" stroke-width="0.7"/>
<line x1="379.88" y1="272.2" x2="379.88" y2="274.4" stroke="#111" stroke-width="0.7"/>
<line x1="381.76" y1="272.2" x2="381.76" y2="274.4" stroke="#111" stroke-width="0.7"/>
<line x1="383.42" y1="272.2" x2="383.42" y2="274.4" stroke="#111" stroke-width="0.7"/>
<line x1="384.9" y1="272.2" x2="384.9" y2="276.2" stroke="#111" stroke-width="1"/>
<text x="374.4" y="286.2" font-size="6.8" fill="#222">10<tspan dy="-4.4" font-size="6.7">5</tspan></text>
<text x="231.9" y="212" font-size="11.45" text-anchor="middle" fill="#111" transform="rotate(-90 231.9 212)">Normalized to mode</text>
<text x="319.75" y="298.5" font-size="9.3" text-anchor="middle" fill="#111">Nectin4-VioBright V423</text>
<rect x="341.2" y="146" width="4.6" height="4.5" fill="#777" stroke="#111" stroke-width="0.9"/>
<text x="349.7" y="151.3" font-size="8.1" fill="#111">Parental</text>
<rect x="343.9" y="212.4" width="4.5" height="4.4" fill="#f48bbd" stroke="#d8237f" stroke-width="0.9"/>
<text x="351.8" y="217.7" font-size="8.1" fill="#111">EV Res.</text>
<text x="416.8" y="157.2" font-size="18" font-weight="bold">e</text>
<rect x="512.6" y="201.1" width="27.2" height="69.8" fill="#7f7f7f" stroke="#000" stroke-width="2.3"/>
<rect x="554.2" y="186.23" width="25.8" height="84.67" fill="#fd99b9" stroke="#000" stroke-width="2.3"/>
<line x1="499.3" y1="143.8" x2="499.3" y2="271.9" stroke="#000" stroke-width="2"/>
<line x1="498.3" y1="270.9" x2="594.5" y2="270.9" stroke="#000" stroke-width="2"/>
<line x1="494.3" y1="270.9" x2="499.3" y2="270.9" stroke="#000" stroke-width="1.3"/>
<text x="493.3" y="274.4" font-size="9.8" text-anchor="end" fill="#111">0.0</text>
<line x1="494.3" y1="235.5" x2="499.3" y2="235.5" stroke="#000" stroke-width="1.3"/>
<text x="493.3" y="239" font-size="9.8" text-anchor="end" fill="#111">0.5</text>
<line x1="494.3" y1="200.1" x2="499.3" y2="200.1" stroke="#000" stroke-width="1.3"/>
<text x="493.3" y="203.6" font-size="9.8" text-anchor="end" fill="#111">1.0</text>
<line x1="494.3" y1="164.7" x2="499.3" y2="164.7" stroke="#000" stroke-width="1.3"/>
<text x="493.3" y="168.2" font-size="9.8" text-anchor="end" fill="#111">1.5</text>
<line x1="496.6" y1="253.2" x2="499.3" y2="253.2" stroke="#000" stroke-width="1.2"/>
<line x1="496.6" y1="217.8" x2="499.3" y2="217.8" stroke="#000" stroke-width="1.2"/>
<line x1="496.6" y1="182.4" x2="499.3" y2="182.4" stroke="#000" stroke-width="1.2"/>
<line x1="496.6" y1="147" x2="499.3" y2="147" stroke="#000" stroke-width="1.2"/>
<line x1="526.2" y1="270.9" x2="526.2" y2="275.5" stroke="#000" stroke-width="1.4"/>
<line x1="567.1" y1="270.9" x2="567.1" y2="275.5" stroke="#000" stroke-width="1.4"/>
<text x="526.2" y="287" font-size="9.4" text-anchor="middle" fill="#111">Parental</text>
<text x="567.1" y="287" font-size="9.4" text-anchor="middle" fill="#111">EV Res.</text>
<text x="545.9" y="302.3" font-size="10" text-anchor="middle" font-weight="bold">RT112</text>
<polyline points="525.7,172.2 525.7,164 567.3,164 567.3,172.2" stroke="#000" stroke-width="2" fill="none"/>
<text x="546.35" y="157.2" font-size="11" text-anchor="middle" fill="#111" textLength="30.9" lengthAdjust="spacingAndGlyphs">0.0033</text>
<text x="458.4" y="206.7" font-size="10.35" text-anchor="middle" fill="#111" transform="rotate(-90 458.4 206.7)">NECTIN4 (ΔMFI)</text>
<text x="471.8" y="207" font-size="10" text-anchor="middle" fill="#111" transform="rotate(-90 471.8 207)">(Relative to Parental)</text>
<line x1="567.1" y1="182.3" x2="567.1" y2="187.8" stroke="#555" stroke-width="1.1"/>
<line x1="561.5" y1="182.3" x2="573.5" y2="182.3" stroke="#333" stroke-width="1.1"/>
<line x1="561.5" y1="187.8" x2="573.5" y2="187.8" stroke="#777" stroke-width="1.1"/>
<circle cx="563" cy="181" r="2.1" fill="#000" stroke="none" stroke-width="1"/>
<circle cx="570.9" cy="179" r="2.1" fill="#000" stroke="none" stroke-width="1"/>
<circle cx="563" cy="191.6" r="2.1" fill="#000" stroke="none" stroke-width="1"/>
<circle cx="570.9" cy="189.7" r="2.1" fill="#000" stroke="none" stroke-width="1"/>
<circle cx="513.8" cy="200" r="2" fill="#000" stroke="none" stroke-width="1"/>
<circle cx="522" cy="198.5" r="2" fill="#000" stroke="none" stroke-width="1"/>
<circle cx="529.6" cy="200.5" r="2" fill="#000" stroke="none" stroke-width="1"/>
<circle cx="537.8" cy="198.8" r="2" fill="#000" stroke="none" stroke-width="1"/>
<text x="12" y="340.6" font-size="18" font-weight="bold">f</text>
<rect x="75.2" y="387.68" width="22.6" height="80.52" fill="#7f7f7f" stroke="#000" stroke-width="2"/>
<rect x="112.2" y="373.67" width="22" height="94.53" fill="#9ab4d6" stroke="#2c4f7c" stroke-width="2"/>
<line x1="62.1" y1="353.8" x2="62.1" y2="469" stroke="#333" stroke-width="1.6"/>
<line x1="61.3" y1="468.2" x2="146.7" y2="468.2" stroke="#333" stroke-width="1.6"/>
<line x1="57.5" y1="468.2" x2="62.1" y2="468.2" stroke="#333" stroke-width="1.3"/>
<text x="55.6" y="471.6" font-size="9.6" text-anchor="end" fill="#111">0</text>
<line x1="57.5" y1="430.33" x2="62.1" y2="430.33" stroke="#333" stroke-width="1.3"/>
<text x="55.6" y="433.73" font-size="9.6" text-anchor="end" fill="#111">100</text>
<line x1="57.5" y1="392.46" x2="62.1" y2="392.46" stroke="#333" stroke-width="1.3"/>
<text x="55.6" y="395.86" font-size="9.6" text-anchor="end" fill="#111">200</text>
<line x1="57.5" y1="354.59" x2="62.1" y2="354.59" stroke="#333" stroke-width="1.3"/>
<text x="55.6" y="357.99" font-size="9.6" text-anchor="end" fill="#111">300</text>
<line x1="86.4" y1="468.2" x2="86.4" y2="472.8" stroke="#333" stroke-width="1.3"/>
<line x1="123.1" y1="468.2" x2="123.1" y2="472.8" stroke="#333" stroke-width="1.3"/>
<text x="86.5" y="483.8" font-size="9.6" text-anchor="middle" fill="#111">Pre</text>
<text x="123.1" y="483.8" font-size="9.6" text-anchor="middle" fill="#111">Post</text>
<polyline points="86.4,347.6 86.4,341 123.1,341 123.1,347.6" stroke="#000" stroke-width="1.2" fill="none"/>
<text x="104.5" y="335.9" font-size="10.4" text-anchor="middle" fill="#111" textLength="43.2" lengthAdjust="spacingAndGlyphs">p = 0.0308</text>
<text x="35" y="410.5" font-size="10.6" text-anchor="middle" fill="#111" transform="rotate(-90 35 410.5)">NECTIN4 H-Score</text>
<line x1="86.4" y1="377.31" x2="86.4" y2="392.46" stroke="#000" stroke-width="1.3"/>
<line x1="80.6" y1="377.31" x2="92.2" y2="377.31" stroke="#000" stroke-width="1.3"/>
<line x1="80.6" y1="392.46" x2="92.2" y2="392.46" stroke="#000" stroke-width="1.3"/>
<line x1="123.1" y1="363.68" x2="123.1" y2="379.58" stroke="#2c4f7c" stroke-width="1.3"/>
<line x1="116.8" y1="363.68" x2="128.5" y2="363.68" stroke="#2c4f7c" stroke-width="1.3"/>
<line x1="116.8" y1="379.58" x2="128.5" y2="379.58" stroke="#2c4f7c" stroke-width="1.3"/>
<circle cx="79.4" cy="354.59" r="1.9" fill="#000" stroke="none" stroke-width="1"/>
<circle cx="86.4" cy="354.59" r="1.9" fill="#000" stroke="none" stroke-width="1"/>
<circle cx="93.4" cy="354.59" r="1.9" fill="#000" stroke="none" stroke-width="1"/>
<circle cx="82.9" cy="358.38" r="1.9" fill="#000" stroke="none" stroke-width="1"/>
<circle cx="89.9" cy="358.38" r="1.9" fill="#000" stroke="none" stroke-width="1"/>
<circle cx="86.4" cy="362.16" r="1.9" fill="#000" stroke="none" stroke-width="1"/>
<circle cx="93.4" cy="367.84" r="1.9" fill="#000" stroke="none" stroke-width="1"/>
<circle cx="86.4" cy="369.74" r="1.9" fill="#000" stroke="none" stroke-width="1"/>
<circle cx="82.9" cy="377.31" r="1.9" fill="#000" stroke="none" stroke-width="1"/>
<circle cx="89.9" cy="377.31" r="1.9" fill="#000" stroke="none" stroke-width="1"/>
<circle cx="86.4" cy="385.64" r="1.9" fill="#000" stroke="none" stroke-width="1"/>
<circle cx="82.9" cy="392.46" r="1.9" fill="#000" stroke="none" stroke-width="1"/>
<circle cx="89.9" cy="392.46" r="1.9" fill="#000" stroke="none" stroke-width="1"/>
<circle cx="86.4" cy="407.61" r="1.9" fill="#000" stroke="none" stroke-width="1"/>
<circle cx="86.4" cy="422.76" r="1.9" fill="#000" stroke="none" stroke-width="1"/>
<circle cx="86.4" cy="453.05" r="1.9" fill="#000" stroke="none" stroke-width="1"/>
<circle cx="86.4" cy="464.41" r="1.9" fill="#000" stroke="none" stroke-width="1"/>
<circle cx="112.4" cy="354.59" r="1.9" fill="#000" stroke="none" stroke-width="1"/>
<circle cx="115.05" cy="354.59" r="1.9" fill="#000" stroke="none" stroke-width="1"/>
<circle cx="117.7" cy="354.59" r="1.9" fill="#000" stroke="none" stroke-width="1"/>
<circle cx="120.35" cy="354.59" r="1.9" fill="#000" stroke="none" stroke-width="1"/>
<circle cx="123" cy="354.59" r="1.9" fill="#000" stroke="none" stroke-width="1"/>
<circle cx="125.65" cy="354.59" r="1.9" fill="#000" stroke="none" stroke-width="1"/>
<circle cx="128.3" cy="354.59" r="1.9" fill="#000" stroke="none" stroke-width="1"/>
<circle cx="130.95" cy="354.59" r="1.9" fill="#000" stroke="none" stroke-width="1"/>
<circle cx="133.6" cy="354.59" r="1.9" fill="#000" stroke="none" stroke-width="1"/>
<circle cx="122.8" cy="362.16" r="1.9" fill="#000" stroke="none" stroke-width="1"/>
<circle cx="122.8" cy="392.46" r="1.9" fill="#000" stroke="none" stroke-width="1"/>
<circle cx="122.8" cy="407.61" r="1.9" fill="#000" stroke="none" stroke-width="1"/>
<circle cx="122.8" cy="422.76" r="1.9" fill="#000" stroke="none" stroke-width="1"/>
<circle cx="122.8" cy="464.41" r="1.9" fill="#000" stroke="none" stroke-width="1"/>
<text x="190.5" y="338.5" font-size="18" font-weight="bold">g</text>
<line x1="239.9" y1="353.8" x2="239.9" y2="469" stroke="#333" stroke-width="1.6"/>
<line x1="239.1" y1="468.2" x2="325.3" y2="468.2" stroke="#333" stroke-width="1.6"/>
<line x1="235.3" y1="468.2" x2="239.9" y2="468.2" stroke="#333" stroke-width="1.3"/>
<text x="233.4" y="471.6" font-size="9.6" text-anchor="end" fill="#111">0</text>
<line x1="235.3" y1="430.33" x2="239.9" y2="430.33" stroke="#333" stroke-width="1.3"/>
<text x="233.4" y="433.73" font-size="9.6" text-anchor="end" fill="#111">100</text>
<line x1="235.3" y1="392.46" x2="239.9" y2="392.46" stroke="#333" stroke-width="1.3"/>
<text x="233.4" y="395.86" font-size="9.6" text-anchor="end" fill="#111">200</text>
<line x1="235.3" y1="354.59" x2="239.9" y2="354.59" stroke="#333" stroke-width="1.3"/>
<text x="233.4" y="357.99" font-size="9.6" text-anchor="end" fill="#111">300</text>
<line x1="264.1" y1="468.2" x2="264.1" y2="472.8" stroke="#333" stroke-width="1.3"/>
<line x1="300.8" y1="468.2" x2="300.8" y2="472.8" stroke="#333" stroke-width="1.3"/>
<text x="264.1" y="483.8" font-size="9.6" text-anchor="middle" fill="#111">Pre</text>
<text x="300.8" y="483.8" font-size="9.6" text-anchor="middle" fill="#111">Post</text>
<text x="213.2" y="410.5" font-size="10.6" text-anchor="middle" fill="#111" transform="rotate(-90 213.2 410.5)">NECTIN4 H-Score</text>
<line x1="264.1" y1="354.59" x2="300.8" y2="354.59" stroke="#222" stroke-width="0.8"/>
<line x1="264.1" y1="358.38" x2="300.8" y2="354.59" stroke="#222" stroke-width="0.8"/>
<line x1="264.1" y1="358.38" x2="300.8" y2="362.16" stroke="#222" stroke-width="0.8"/>
<line x1="264.1" y1="362.16" x2="300.8" y2="354.59" stroke="#222" stroke-width="0.8"/>
<line x1="264.1" y1="367.84" x2="300.8" y2="354.59" stroke="#222" stroke-width="0.8"/>
<line x1="264.1" y1="368.98" x2="300.8" y2="354.59" stroke="#222" stroke-width="0.8"/>
<line x1="264.1" y1="369.74" x2="300.8" y2="356.48" stroke="#222" stroke-width="0.8"/>
<line x1="264.1" y1="377.31" x2="300.8" y2="354.59" stroke="#222" stroke-width="0.8"/>
<line x1="264.1" y1="377.31" x2="300.8" y2="407.61" stroke="#222" stroke-width="0.8"/>
<line x1="264.1" y1="384.89" x2="300.8" y2="354.59" stroke="#222" stroke-width="0.8"/>
<line x1="264.1" y1="392.46" x2="300.8" y2="392.46" stroke="#222" stroke-width="0.8"/>
<line x1="264.1" y1="392.46" x2="300.8" y2="354.59" stroke="#222" stroke-width="0.8"/>
<line x1="264.1" y1="407.61" x2="300.8" y2="354.59" stroke="#222" stroke-width="0.8"/>
<line x1="264.1" y1="422.76" x2="300.8" y2="365.95" stroke="#222" stroke-width="0.8"/>
<line x1="264.1" y1="453.05" x2="300.8" y2="422.76" stroke="#222" stroke-width="0.8"/>
<line x1="264.1" y1="464.41" x2="300.8" y2="464.41" stroke="#222" stroke-width="0.8"/>
<circle cx="264.1" cy="407.61" r="1.9" fill="#000" stroke="none" stroke-width="1"/>
<circle cx="264.1" cy="358.38" r="1.9" fill="#000" stroke="none" stroke-width="1"/>
<circle cx="264.1" cy="369.74" r="1.9" fill="#000" stroke="none" stroke-width="1"/>
<circle cx="264.1" cy="368.98" r="1.9" fill="#000" stroke="none" stroke-width="1"/>
<circle cx="264.1" cy="392.46" r="1.9" fill="#000" stroke="none" stroke-width="1"/>
<circle cx="264.1" cy="367.84" r="1.9" fill="#000" stroke="none" stroke-width="1"/>
<circle cx="264.1" cy="453.05" r="1.9" fill="#000" stroke="none" stroke-width="1"/>
<circle cx="264.1" cy="464.41" r="1.9" fill="#000" stroke="none" stroke-width="1"/>
<circle cx="264.1" cy="354.59" r="1.9" fill="#000" stroke="none" stroke-width="1"/>
<circle cx="264.1" cy="422.76" r="1.9" fill="#000" stroke="none" stroke-width="1"/>
<circle cx="264.1" cy="377.31" r="1.9" fill="#000" stroke="none" stroke-width="1"/>
<circle cx="264.1" cy="362.16" r="1.9" fill="#000" stroke="none" stroke-width="1"/>
<circle cx="264.1" cy="384.89" r="1.9" fill="#000" stroke="none" stroke-width="1"/>
<circle cx="300.8" cy="407.61" r="1.9" fill="#000" stroke="none" stroke-width="1"/>
<circle cx="300.8" cy="356.48" r="1.9" fill="#000" stroke="none" stroke-width="1"/>
<circle cx="300.8" cy="392.46" r="1.9" fill="#000" stroke="none" stroke-width="1"/>
<circle cx="300.8" cy="464.41" r="1.9" fill="#000" stroke="none" stroke-width="1"/>
<circle cx="300.8" cy="354.59" r="1.9" fill="#000" stroke="none" stroke-width="1"/>
<circle cx="300.8" cy="365.95" r="1.9" fill="#000" stroke="none" stroke-width="1"/>
<circle cx="300.8" cy="362.16" r="1.9" fill="#000" stroke="none" stroke-width="1"/>
<circle cx="300.8" cy="422.76" r="1.9" fill="#000" stroke="none" stroke-width="1"/>
<text x="331.3" y="341" font-size="18" font-weight="bold">h</text>
<text x="433.6" y="344.7" font-size="15.9" text-anchor="middle" fill="#111">Pre-EV</text>
<text x="603.4" y="344.7" font-size="15.9" text-anchor="middle" fill="#111">Post-EV</text>
<defs>
<clipPath id="hc1"><rect x="360.4" y="351.9" width="158" height="105.1"/></clipPath>
<clipPath id="hc2"><rect x="528.4" y="352" width="155.8" height="105"/></clipPath>
<filter id="hb3" x="-30%" y="-30%" width="160%" height="160%"><feGaussianBlur stdDeviation="3"/></filter>
<filter id="hb5" x="-30%" y="-30%" width="160%" height="160%"><feGaussianBlur stdDeviation="5"/></filter>
<filter id="hb2" x="-30%" y="-30%" width="160%" height="160%"><feGaussianBlur stdDeviation="2"/></filter>
<filter id="ihc" x="0" y="0" width="100%" height="100%" color-interpolation-filters="sRGB">
 <feComponentTransfer in="SourceGraphic" result="inv"><feFuncR type="linear" slope="-1" intercept="1"/><feFuncG type="linear" slope="-1" intercept="1"/><feFuncB type="linear" slope="-1" intercept="1"/></feComponentTransfer>
 <feTurbulence type="fractalNoise" baseFrequency="0.11" numOctaves="2" seed="4" result="na"/>
 <feTurbulence type="fractalNoise" baseFrequency="0.3" numOctaves="2" seed="8" result="nb"/>
 <feComposite in="na" in2="nb" operator="arithmetic" k2="0.5" k3="0.5" result="n"/>
 <feColorMatrix in="n" type="matrix" values="3.4 0 0 0 -0.7  3.4 0 0 0 -0.7  3.4 0 0 0 -0.7  0 0 0 0 1" result="ng"/>
 <feComposite in="inv" in2="ng" operator="arithmetic" k1="1" k2="0" k3="0" k4="0" result="m"/>
 <feComponentTransfer in="m"><feFuncR type="linear" slope="-1" intercept="1"/><feFuncG type="linear" slope="-1" intercept="1"/><feFuncB type="linear" slope="-1" intercept="1"/><feFuncA type="linear" slope="0" intercept="1"/></feComponentTransfer>
</filter>
<filter id="blue" x="0" y="0" width="100%" height="100%" color-interpolation-filters="sRGB">
 <feTurbulence type="fractalNoise" baseFrequency="0.6" numOctaves="1" seed="17"/>
 <feGaussianBlur stdDeviation="0.4"/>
 <feColorMatrix type="matrix" values="0 0 0 0 0.5  0 0 0 0 0.54  0 0 0 0 0.82  0 14 0 0 -8.0"/>
</filter>
<filter id="nests" x="0" y="0" width="100%" height="100%" color-interpolation-filters="sRGB">
 <feTurbulence type="fractalNoise" baseFrequency="0.075" numOctaves="2" seed="3"/>
 <feColorMatrix type="matrix" values="0 0 0 0 0.9  0 0 0 0 0.79  0 0 0 0 0.72  4.5 0 0 0 -1.9"/>
</filter>
<filter id="rag" x="-5%" y="-5%" width="110%" height="110%">
 <feTurbulence type="fractalNoise" baseFrequency="0.3" numOctaves="2" seed="23" result="t"/>
 <feDisplacementMap in="SourceGraphic" in2="t" scale="7" xChannelSelector="R" yChannelSelector="G"/>
</filter>
</defs>
<mask id="sm1"><g filter="url(#hb3)">
<path d="M408,352 C418,380 412,420 435,438 S495,428 522,430" fill="none" stroke="#fff" stroke-width="14"/>
<path d="M358,455 C380,440 400,452 425,444" fill="none" stroke="#fff" stroke-width="13"/>
<path d="M360,397 C372,400 385,388 398,393" fill="none" stroke="#fff" stroke-width="10"/>
<path d="M380,352 C385,365 378,375 390,380" fill="none" stroke="#fff" stroke-width="10"/>
</g></mask>
<g clip-path="url(#hc1)">
<g filter="url(#ihc)">
<rect x="360.4" y="351.9" width="158" height="105.1" fill="#e7e1e1" stroke="none" stroke-width="1"/>
<rect x="360.4" y="351.9" width="158" height="105.1" fill="none" stroke="none" stroke-width="1" filter="url(#nests)"/>
<g filter="url(#hb5)">
<ellipse cx="508" cy="372" rx="12" ry="17" fill="#e0b8a0"/>
<ellipse cx="496" cy="446" rx="22" ry="12" fill="#deb59d"/>
<ellipse cx="515" cy="410" rx="7" ry="12" fill="#e0bea9"/>
</g>
<g filter="url(#hb2)">
<ellipse cx="508" cy="364" rx="9" ry="11" fill="#ddb197"/>
<ellipse cx="504" cy="396" rx="7" ry="9" fill="#dfb59c"/>
<ellipse cx="512" cy="421" rx="6" ry="7" fill="#e0b9a2"/>
<ellipse cx="494" cy="447" rx="17" ry="8" fill="#dcb096"/>
<ellipse cx="380" cy="447" rx="14" ry="7" fill="#e2c4b3"/>
</g>
<ellipse cx="457" cy="389" rx="40" ry="37" fill="#ddb096" filter="url(#hb2)"/>
<ellipse cx="458" cy="395" rx="18" ry="13" fill="#d7a283" filter="url(#hb3)"/>
<ellipse cx="448" cy="380" rx="12" ry="8" fill="#dbab8e" filter="url(#hb3)"/>
<g filter="url(#hb3)" opacity="0.9">
<path d="M408,352 C418,380 412,420 435,438 S495,428 522,430" fill="none" stroke="#eeebeb" stroke-width="8"/>
<path d="M358,455 C380,440 400,452 425,444" fill="none" stroke="#eeebeb" stroke-width="7"/>
<path d="M360,397 C372,400 385,388 398,393" fill="none" stroke="#eeebeb" stroke-width="4"/>
<path d="M380,352 C385,365 378,375 390,380" fill="none" stroke="#eeebeb" stroke-width="4"/>
</g>
</g>
<g mask="url(#sm1)">
<rect x="360.4" y="351.9" width="158" height="105.1" fill="none" stroke="none" stroke-width="1" filter="url(#blue)" opacity="0.3"/>
</g>
<rect x="360.4" y="351.9" width="158" height="105.1" fill="none" stroke="none" stroke-width="1" filter="url(#blue)" opacity="0.13"/>
<circle cx="464.26" cy="405.61" r="0.9" fill="#a8432e" stroke="none" stroke-width="1" opacity="0.7"/>
<circle cx="481.83" cy="405.52" r="0.96" fill="#a8432e" stroke="none" stroke-width="1" opacity="0.7"/>
<circle cx="431.6" cy="392.35" r="0.97" fill="#a8432e" stroke="none" stroke-width="1" opacity="0.7"/>
<circle cx="465.69" cy="413.24" r="0.56" fill="#a8432e" stroke="none" stroke-width="1" opacity="0.7"/>
<circle cx="455.8" cy="381.84" r="0.77" fill="#a8432e" stroke="none" stroke-width="1" opacity="0.7"/>
<circle cx="461.57" cy="370.63" r="0.61" fill="#a8432e" stroke="none" stroke-width="1" opacity="0.7"/>
<circle cx="445.37" cy="413.98" r="0.88" fill="#a8432e" stroke="none" stroke-width="1" opacity="0.7"/>
<circle cx="438.78" cy="408.26" r="0.57" fill="#a8432e" stroke="none" stroke-width="1" opacity="0.7"/>
<circle cx="463.96" cy="376.08" r="0.5" fill="#a8432e" stroke="none" stroke-width="1" opacity="0.7"/>
<circle cx="477.93" cy="380.05" r="0.61" fill="#a8432e" stroke="none" stroke-width="1" opacity="0.7"/>
<circle cx="484.03" cy="411.88" r="0.64" fill="#a8432e" stroke="none" stroke-width="1" opacity="0.7"/>
<circle cx="482.88" cy="395.88" r="0.84" fill="#a8432e" stroke="none" stroke-width="1" opacity="0.7"/>
<circle cx="441.26" cy="415.17" r="0.85" fill="#a8432e" stroke="none" stroke-width="1" opacity="0.7"/>
<circle cx="483.16" cy="412.9" r="0.65" fill="#a8432e" stroke="none" stroke-width="1" opacity="0.7"/>
<circle cx="449.87" cy="377.97" r="0.57" fill="#a8432e" stroke="none" stroke-width="1" opacity="0.7"/>
<circle cx="433.58" cy="384.47" r="0.8" fill="#a8432e" stroke="none" stroke-width="1" opacity="0.7"/>
<circle cx="430.19" cy="402.54" r="0.67" fill="#a8432e" stroke="none" stroke-width="1" opacity="0.7"/>
<circle cx="447.05" cy="409.29" r="0.74" fill="#a8432e" stroke="none" stroke-width="1" opacity="0.7"/>
<circle cx="447.37" cy="393.1" r="0.85" fill="#a8432e" stroke="none" stroke-width="1" opacity="0.7"/>
<circle cx="433.14" cy="416.8" r="0.51" fill="#a8432e" stroke="none" stroke-width="1" opacity="0.7"/>
<circle cx="471.24" cy="410.55" r="0.51" fill="#a8432e" stroke="none" stroke-width="1" opacity="0.7"/>
<circle cx="473.33" cy="387.58" r="0.79" fill="#a8432e" stroke="none" stroke-width="1" opacity="0.7"/>
<circle cx="430.5" cy="372.24" r="0.59" fill="#a8432e" stroke="none" stroke-width="1" opacity="0.7"/>
<circle cx="482.53" cy="379.43" r="0.88" fill="#a8432e" stroke="none" stroke-width="1" opacity="0.7"/>
<circle cx="481.13" cy="415.22" r="0.67" fill="#a8432e" stroke="none" stroke-width="1" opacity="0.7"/>
<circle cx="449.51" cy="395.19" r="0.89" fill="#a8432e" stroke="none" stroke-width="1" opacity="0.7"/>
<text x="362.8" y="450.6" font-size="13.2" fill="#b5633e">NECTIN4</text>
<rect x="501" y="452.9" width="14.3" height="2.3" fill="#fff" stroke="none" stroke-width="1"/>
</g>
<rect x="360.4" y="351.9" width="158" height="105.1" fill="none" stroke="#2a2a2a" stroke-width="1.1"/>
<g clip-path="url(#hc2)">
<rect x="528.4" y="352" width="155.8" height="105" fill="#d9dbda" stroke="none" stroke-width="1"/>
<mask id="tism"><path d="M527,350 L546,350 L547,357 L554,356 L566,352 L578,352 L588,364 L600,368 L612,375 L618,382 L626,390 L642,397 L662,400 L686,405 L686,460 L640,460 L630,455 L620,452 L610,447 L600,444 L582,438 L566,426 L550,420 L545,412 L549,402 L540,400 L534,408 L527,407 Z" fill="#fff" filter="url(#rag)"/></mask>
<mask id="sm2"><g filter="url(#hb2)">
<ellipse cx="546" cy="382" rx="6" ry="18" fill="#fff"/>
<ellipse cx="538" cy="366" rx="9" ry="7" fill="#fff"/>
<ellipse cx="588" cy="398" rx="8" ry="12" fill="#fff"/>
<ellipse cx="578" cy="388" rx="7" ry="6" fill="#fff"/>
<ellipse cx="612" cy="418" rx="13" ry="11" fill="#fff"/>
<ellipse cx="642" cy="442" rx="16" ry="16" fill="#fff"/>
<ellipse cx="600" cy="434" rx="6" ry="6" fill="#fff"/>
<ellipse cx="548" cy="404" rx="7" ry="7" fill="#fff"/>
<ellipse cx="672" cy="418" rx="7" ry="7" fill="#fff"/>
<ellipse cx="628" cy="432" rx="8" ry="7" fill="#fff"/>
</g></mask>
<g mask="url(#tism)">
<g filter="url(#ihc)">
<rect x="528.4" y="352" width="155.8" height="105" fill="#c88563" stroke="none" stroke-width="1"/>
<g filter="url(#hb2)">
<ellipse cx="546" cy="382" rx="4" ry="16" fill="#dedbe2"/>
<ellipse cx="538" cy="366" rx="7" ry="5" fill="#dedbe2"/>
<ellipse cx="588" cy="398" rx="6" ry="10" fill="#dedbe2"/>
<ellipse cx="578" cy="388" rx="5" ry="4" fill="#dedbe2"/>
<ellipse cx="612" cy="418" rx="11" ry="9" fill="#dedbe2"/>
<ellipse cx="642" cy="442" rx="14" ry="14" fill="#dedbe2"/>
<ellipse cx="600" cy="434" rx="4" ry="4" fill="#dedbe2"/>
<ellipse cx="548" cy="404" rx="5" ry="5" fill="#dedbe2"/>
<ellipse cx="672" cy="418" rx="5" ry="5" fill="#dedbe2"/>
<ellipse cx="628" cy="432" rx="6" ry="5" fill="#dedbe2"/>
</g>
</g>
<g mask="url(#sm2)">
<rect x="528.4" y="352" width="155.8" height="105" fill="none" stroke="none" stroke-width="1" filter="url(#blue)" opacity="0.45"/>
</g>
<rect x="528.4" y="352" width="155.8" height="105" fill="none" stroke="none" stroke-width="1" filter="url(#blue)" opacity="0.35"/>
</g>
<rect x="668.3" y="453.3" width="14.4" height="2.1" fill="#fff" stroke="none" stroke-width="1"/>
</g>
<rect x="528.4" y="352" width="155.8" height="105" fill="none" stroke="#2a2a2a" stroke-width="1.1"/>
<text x="13.7" y="518.4" font-size="18" font-weight="bold">i</text>
<rect x="30.6" y="524.1" width="5.4" height="5.2" fill="#606060" stroke="#000" stroke-width="1.2"/>
<text x="41.3" y="530.1" font-size="10.65" fill="#111">RT112-Parental</text>
<rect x="121.9" y="524.1" width="5.4" height="5.2" fill="#f59dbd" stroke="#000" stroke-width="1.2"/>
<text x="132.6" y="530.1" font-size="10.65" fill="#111">RT112-EV Res.</text>
<rect x="76.5" y="640.37" width="12" height="36.83" fill="#606060" stroke="#000" stroke-width="1.9"/>
<rect x="88.5" y="640.74" width="12" height="36.46" fill="#f59dbd" stroke="#000" stroke-width="1.9"/>
<rect x="107.5" y="623.26" width="12" height="53.94" fill="#606060" stroke="#000" stroke-width="1.9"/>
<rect x="119.5" y="636.28" width="12" height="40.92" fill="#f59dbd" stroke="#000" stroke-width="1.9"/>
<rect x="138.8" y="604.66" width="12" height="72.54" fill="#606060" stroke="#000" stroke-width="1.9"/>
<rect x="150.8" y="634.42" width="12" height="42.78" fill="#f59dbd" stroke="#000" stroke-width="1.9"/>
<rect x="169.8" y="573.04" width="12" height="104.16" fill="#606060" stroke="#000" stroke-width="1.9"/>
<rect x="181.8" y="625.86" width="12" height="51.34" fill="#f59dbd" stroke="#000" stroke-width="1.9"/>
<circle cx="79.5" cy="641.12" r="2.35" fill="#000" stroke="none" stroke-width="1"/>
<circle cx="82.5" cy="638.88" r="2.35" fill="#000" stroke="none" stroke-width="1"/>
<circle cx="85.5" cy="640" r="2.35" fill="#000" stroke="none" stroke-width="1"/>
<circle cx="110.5" cy="623.26" r="2.35" fill="#000" stroke="none" stroke-width="1"/>
<circle cx="113.5" cy="619.54" r="2.35" fill="#000" stroke="none" stroke-width="1"/>
<circle cx="116.5" cy="624.38" r="2.35" fill="#000" stroke="none" stroke-width="1"/>
<circle cx="141.8" cy="605.4" r="2.35" fill="#000" stroke="none" stroke-width="1"/>
<circle cx="144.8" cy="600.94" r="2.35" fill="#000" stroke="none" stroke-width="1"/>
<circle cx="147.8" cy="604.66" r="2.35" fill="#000" stroke="none" stroke-width="1"/>
<circle cx="172.8" cy="574.9" r="2.35" fill="#000" stroke="none" stroke-width="1"/>
<circle cx="175.8" cy="572.3" r="2.35" fill="#000" stroke="none" stroke-width="1"/>
<circle cx="178.8" cy="571.92" r="2.35" fill="#000" stroke="none" stroke-width="1"/>
<circle cx="91.5" cy="640.37" r="2.35" fill="#000" stroke="none" stroke-width="1"/>
<circle cx="94.5" cy="640" r="2.35" fill="#000" stroke="none" stroke-width="1"/>
<circle cx="97.5" cy="640.74" r="2.35" fill="#000" stroke="none" stroke-width="1"/>
<circle cx="122.5" cy="637.4" r="2.35" fill="#000" stroke="none" stroke-width="1"/>
<circle cx="125.5" cy="635.16" r="2.35" fill="#000" stroke="none" stroke-width="1"/>
<circle cx="128.5" cy="636.28" r="2.35" fill="#000" stroke="none" stroke-width="1"/>
<circle cx="153.8" cy="635.54" r="2.35" fill="#000" stroke="none" stroke-width="1"/>
<circle cx="156.8" cy="631.82" r="2.35" fill="#000" stroke="none" stroke-width="1"/>
<circle cx="159.8" cy="635.54" r="2.35" fill="#000" stroke="none" stroke-width="1"/>
<circle cx="184.8" cy="625.86" r="2.35" fill="#000" stroke="none" stroke-width="1"/>
<circle cx="187.8" cy="625.12" r="2.35" fill="#000" stroke="none" stroke-width="1"/>
<circle cx="190.8" cy="625.49" r="2.35" fill="#000" stroke="none" stroke-width="1"/>
<line x1="69.9" y1="546.5" x2="69.9" y2="678.1" stroke="#000" stroke-width="1.7"/>
<line x1="69.1" y1="677.2" x2="200.1" y2="677.2" stroke="#000" stroke-width="1.7"/>
<line x1="64.9" y1="677.2" x2="69.9" y2="677.2" stroke="#000" stroke-width="1.4"/>
<line x1="64.9" y1="640" x2="69.9" y2="640" stroke="#000" stroke-width="1.4"/>
<line x1="64.9" y1="602.8" x2="69.9" y2="602.8" stroke="#000" stroke-width="1.4"/>
<line x1="64.9" y1="565.6" x2="69.9" y2="565.6" stroke="#000" stroke-width="1.4"/>
<line x1="66.9" y1="658.6" x2="69.9" y2="658.6" stroke="#000" stroke-width="1.3"/>
<line x1="66.9" y1="621.4" x2="69.9" y2="621.4" stroke="#000" stroke-width="1.3"/>
<line x1="66.9" y1="584.2" x2="69.9" y2="584.2" stroke="#000" stroke-width="1.3"/>
<line x1="66.9" y1="547" x2="69.9" y2="547" stroke="#000" stroke-width="1.3"/>
<text x="62.4" y="680.8" font-size="10.2" text-anchor="end" fill="#111">0</text>
<text x="62.4" y="643.6" font-size="10.2" text-anchor="end" fill="#111">1</text>
<text x="62.4" y="606.4" font-size="10.2" text-anchor="end" fill="#111">2</text>
<text x="62.4" y="569.2" font-size="10.2" text-anchor="end" fill="#111">3</text>
<line x1="88.5" y1="677.2" x2="88.5" y2="682.2" stroke="#000" stroke-width="1.4"/>
<line x1="119.5" y1="677.2" x2="119.5" y2="682.2" stroke="#000" stroke-width="1.4"/>
<line x1="150.8" y1="677.2" x2="150.8" y2="682.2" stroke="#000" stroke-width="1.4"/>
<line x1="181.8" y1="677.2" x2="181.8" y2="682.2" stroke="#000" stroke-width="1.4"/>
<text x="88.5" y="694" font-size="10.2" text-anchor="middle" fill="#111">0</text>
<text x="119.5" y="694" font-size="10.2" text-anchor="middle" fill="#111">5</text>
<text x="150.8" y="694" font-size="10.2" text-anchor="middle" fill="#111">10</text>
<text x="181.8" y="694" font-size="10.2" text-anchor="middle" fill="#111">20</text>
<text x="135.5" y="708.6" font-size="10.6" text-anchor="middle" font-weight="bold">Enfortumab Vedotin (µg/ml)</text>
<text x="47.8" y="611" font-size="10.6" text-anchor="middle" font-weight="bold" transform="rotate(-90 47.8 611)">Kill Index (1/Norm. AUC<tspan font-size="7.42" dy="2.7">0-120</tspan><tspan dy="-2.7">)</tspan></text>
<polyline points="94.4,562.8 94.4,555.6 157.4,555.6 157.4,562.8" stroke="#000" stroke-width="1.6" fill="none"/>
<text x="126.3" y="547.5" font-size="10.4" text-anchor="middle" fill="#111">0.1030</text>
<polyline points="81.9,588 81.9,581 145.4,581 145.4,588" stroke="#000" stroke-width="1.6" fill="none"/>
<text x="113.6" y="573.8" font-size="10.4" text-anchor="middle" fill="#111">&lt;0.0001</text>
<polyline points="113.6,612.5 113.6,606 126.1,606 126.1,612.5" stroke="#000" stroke-width="1.6" fill="none"/>
<text x="119.6" y="597.9" font-size="10.4" text-anchor="middle" fill="#111">&lt;0.0001</text>
<text x="236.6" y="516" font-size="18" font-weight="bold">j</text>
<rect x="245.5" y="524.1" width="5.4" height="5.2" fill="#606060" stroke="#000" stroke-width="1.2"/>
<text x="256.3" y="530.1" font-size="10.65" fill="#111">RT112-Parental</text>
<rect x="336.7" y="524.1" width="5.4" height="5.2" fill="#f59dbd" stroke="#000" stroke-width="1.2"/>
<text x="347.3" y="530.1" font-size="10.65" fill="#111">RT112-EV Res.</text>
<rect x="292.4" y="629.74" width="12" height="47.56" fill="#606060" stroke="#000" stroke-width="1.9"/>
<rect x="304.4" y="633.84" width="12" height="43.46" fill="#f59dbd" stroke="#000" stroke-width="1.9"/>
<rect x="323.2" y="613.34" width="12" height="63.96" fill="#606060" stroke="#000" stroke-width="1.9"/>
<rect x="335.2" y="615.47" width="12" height="61.83" fill="#f59dbd" stroke="#000" stroke-width="1.9"/>
<rect x="354.2" y="602.84" width="12" height="74.46" fill="#606060" stroke="#000" stroke-width="1.9"/>
<rect x="366.2" y="598.25" width="12" height="79.05" fill="#f59dbd" stroke="#000" stroke-width="1.9"/>
<rect x="385.4" y="599.56" width="12" height="77.74" fill="#606060" stroke="#000" stroke-width="1.9"/>
<rect x="397.4" y="586.44" width="12" height="90.86" fill="#f59dbd" stroke="#000" stroke-width="1.9"/>
<circle cx="295.4" cy="630.56" r="2.35" fill="#000" stroke="none" stroke-width="1"/>
<circle cx="298.4" cy="628.1" r="2.35" fill="#000" stroke="none" stroke-width="1"/>
<circle cx="301.4" cy="628.92" r="2.35" fill="#000" stroke="none" stroke-width="1"/>
<circle cx="326.2" cy="614.16" r="2.35" fill="#000" stroke="none" stroke-width="1"/>
<circle cx="329.2" cy="610.88" r="2.35" fill="#000" stroke="none" stroke-width="1"/>
<circle cx="332.2" cy="613.34" r="2.35" fill="#000" stroke="none" stroke-width="1"/>
<circle cx="357.2" cy="603.5" r="2.35" fill="#000" stroke="none" stroke-width="1"/>
<circle cx="360.2" cy="602.68" r="2.35" fill="#000" stroke="none" stroke-width="1"/>
<circle cx="363.2" cy="602.68" r="2.35" fill="#000" stroke="none" stroke-width="1"/>
<circle cx="388.4" cy="600.22" r="2.35" fill="#000" stroke="none" stroke-width="1"/>
<circle cx="391.4" cy="598.58" r="2.35" fill="#000" stroke="none" stroke-width="1"/>
<circle cx="394.4" cy="599.4" r="2.35" fill="#000" stroke="none" stroke-width="1"/>
<circle cx="307.4" cy="634.66" r="2.35" fill="#000" stroke="none" stroke-width="1"/>
<circle cx="310.4" cy="632.2" r="2.35" fill="#000" stroke="none" stroke-width="1"/>
<circle cx="313.4" cy="633.02" r="2.35" fill="#000" stroke="none" stroke-width="1"/>
<circle cx="338.2" cy="618.26" r="2.35" fill="#000" stroke="none" stroke-width="1"/>
<circle cx="339.7" cy="612.52" r="2.35" fill="#000" stroke="none" stroke-width="1"/>
<circle cx="344.2" cy="615.8" r="2.35" fill="#000" stroke="none" stroke-width="1"/>
<circle cx="369.2" cy="600.22" r="2.35" fill="#000" stroke="none" stroke-width="1"/>
<circle cx="372.2" cy="592.02" r="2.35" fill="#000" stroke="none" stroke-width="1"/>
<circle cx="375.2" cy="597.76" r="2.35" fill="#000" stroke="none" stroke-width="1"/>
<circle cx="401.9" cy="575.62" r="2.35" fill="#000" stroke="none" stroke-width="1"/>
<circle cx="406.4" cy="578.9" r="2.35" fill="#000" stroke="none" stroke-width="1"/>
<circle cx="404.4" cy="601.86" r="2.35" fill="#000" stroke="none" stroke-width="1"/>
<line x1="372.2" y1="595.3" x2="372.2" y2="601.04" stroke="#000" stroke-width="1.1"/>
<line x1="369.2" y1="595.3" x2="375.2" y2="595.3" stroke="#000" stroke-width="1.1"/>
<line x1="369.2" y1="601.04" x2="375.2" y2="601.04" stroke="#000" stroke-width="1.1"/>
<line x1="403.4" y1="577.26" x2="403.4" y2="593.66" stroke="#000" stroke-width="1.1"/>
<line x1="400.4" y1="577.26" x2="406.4" y2="577.26" stroke="#000" stroke-width="1.1"/>
<line x1="400.4" y1="593.66" x2="406.4" y2="593.66" stroke="#000" stroke-width="1.1"/>
<line x1="285.4" y1="546" x2="285.4" y2="678.2" stroke="#000" stroke-width="1.7"/>
<line x1="284.6" y1="677.3" x2="416.3" y2="677.3" stroke="#000" stroke-width="1.7"/>
<line x1="280.4" y1="677.3" x2="285.4" y2="677.3" stroke="#000" stroke-width="1.4"/>
<line x1="280.4" y1="644.5" x2="285.4" y2="644.5" stroke="#000" stroke-width="1.4"/>
<line x1="280.4" y1="611.7" x2="285.4" y2="611.7" stroke="#000" stroke-width="1.4"/>
<line x1="280.4" y1="578.9" x2="285.4" y2="578.9" stroke="#000" stroke-width="1.4"/>
<line x1="280.4" y1="546.1" x2="285.4" y2="546.1" stroke="#000" stroke-width="1.4"/>
<line x1="282.4" y1="660.9" x2="285.4" y2="660.9" stroke="#000" stroke-width="1.3"/>
<line x1="282.4" y1="628.1" x2="285.4" y2="628.1" stroke="#000" stroke-width="1.3"/>
<line x1="282.4" y1="595.3" x2="285.4" y2="595.3" stroke="#000" stroke-width="1.3"/>
<line x1="282.4" y1="562.5" x2="285.4" y2="562.5" stroke="#000" stroke-width="1.3"/>
<text x="278.5" y="680.9" font-size="10.2" text-anchor="end" fill="#111">0</text>
<text x="278.5" y="648.1" font-size="10.2" text-anchor="end" fill="#111">2</text>
<text x="278.5" y="615.3" font-size="10.2" text-anchor="end" fill="#111">4</text>
<text x="278.5" y="582.5" font-size="10.2" text-anchor="end" fill="#111">6</text>
<text x="278.5" y="549.7" font-size="10.2" text-anchor="end" fill="#111">8</text>
<line x1="304.4" y1="677.3" x2="304.4" y2="682.3" stroke="#000" stroke-width="1.4"/>
<line x1="335.2" y1="677.3" x2="335.2" y2="682.3" stroke="#000" stroke-width="1.4"/>
<line x1="366.2" y1="677.3" x2="366.2" y2="682.3" stroke="#000" stroke-width="1.4"/>
<line x1="397.4" y1="677.3" x2="397.4" y2="682.3" stroke="#000" stroke-width="1.4"/>
<text x="304.4" y="694.5" font-size="10.2" text-anchor="middle" fill="#111">1:4</text>
<text x="335.2" y="694.5" font-size="10.2" text-anchor="middle" fill="#111">1:2</text>
<text x="366.2" y="694.5" font-size="10.2" text-anchor="middle" fill="#111">1:1</text>
<text x="397.4" y="694.5" font-size="10.2" text-anchor="middle" fill="#111">2:1</text>
<text x="350.5" y="708.8" font-size="10.7" text-anchor="middle" font-weight="bold">NECTIN4 CAR-1 (E:T)</text>
<text x="263.2" y="613.5" font-size="10.85" text-anchor="middle" font-weight="bold" transform="rotate(-90 263.2 613.5)">Kill Index (1/AUC<tspan font-size="7.59" dy="2.7">0-72</tspan><tspan dy="-2.7">)</tspan></text>
<polyline points="297.8,568.3 297.8,561 311,561 311,568.3" stroke="#000" stroke-width="1.6" fill="none"/>
<text x="304.4" y="553.6" font-size="10.4" text-anchor="middle" fill="#111">ns</text>
<polyline points="328.6,568.3 328.6,561 341.8,561 341.8,568.3" stroke="#000" stroke-width="1.6" fill="none"/>
<text x="335.2" y="553.6" font-size="10.4" text-anchor="middle" fill="#111">ns</text>
<polyline points="359.6,568.3 359.6,561 372.8,561 372.8,568.3" stroke="#000" stroke-width="1.6" fill="none"/>
<text x="366.2" y="553.6" font-size="10.4" text-anchor="middle" fill="#111">ns</text>
<polyline points="390.8,568.3 390.8,561 404,561 404,568.3" stroke="#000" stroke-width="1.6" fill="none"/>
<text x="397.4" y="553.6" font-size="10.4" text-anchor="middle" fill="#111">ns</text>
<text x="449.8" y="518.6" font-size="18" font-weight="bold">k</text>
<rect x="480.2" y="524.1" width="5.4" height="5.2" fill="#606060" stroke="#000" stroke-width="1.2"/>
<text x="491.2" y="530.1" font-size="10.65" fill="#111">RT112-Parental</text>
<rect x="573.4" y="524.1" width="5.4" height="5.2" fill="#f59dbd" stroke="#000" stroke-width="1.2"/>
<text x="584.6" y="530.1" font-size="10.65" fill="#111">RT112-EV Res.</text>
<rect x="527.9" y="660.3" width="12" height="20.1" fill="#606060" stroke="#000" stroke-width="1.9"/>
<rect x="539.9" y="654.27" width="12" height="26.13" fill="#f59dbd" stroke="#000" stroke-width="1.9"/>
<rect x="559.9" y="648.57" width="12" height="31.83" fill="#606060" stroke="#000" stroke-width="1.9"/>
<rect x="571.9" y="646.9" width="12" height="33.5" fill="#f59dbd" stroke="#000" stroke-width="1.9"/>
<rect x="591" y="619.43" width="12" height="60.97" fill="#606060" stroke="#000" stroke-width="1.9"/>
<rect x="603" y="626.13" width="12" height="54.27" fill="#f59dbd" stroke="#000" stroke-width="1.9"/>
<rect x="622.7" y="578.23" width="12" height="102.17" fill="#606060" stroke="#000" stroke-width="1.9"/>
<rect x="634.7" y="594.98" width="12" height="85.42" fill="#f59dbd" stroke="#000" stroke-width="1.9"/>
<circle cx="530.9" cy="661.98" r="2.35" fill="#000" stroke="none" stroke-width="1"/>
<circle cx="533.9" cy="658.29" r="2.35" fill="#000" stroke="none" stroke-width="1"/>
<circle cx="536.9" cy="660.3" r="2.35" fill="#000" stroke="none" stroke-width="1"/>
<circle cx="562.9" cy="650.25" r="2.35" fill="#000" stroke="none" stroke-width="1"/>
<circle cx="565.9" cy="646.9" r="2.35" fill="#000" stroke="none" stroke-width="1"/>
<circle cx="568.9" cy="647.9" r="2.35" fill="#000" stroke="none" stroke-width="1"/>
<circle cx="594" cy="623.45" r="2.35" fill="#000" stroke="none" stroke-width="1"/>
<circle cx="594" cy="614.74" r="2.35" fill="#000" stroke="none" stroke-width="1"/>
<circle cx="600" cy="619.1" r="2.35" fill="#000" stroke="none" stroke-width="1"/>
<circle cx="625.7" cy="576.55" r="2.35" fill="#000" stroke="none" stroke-width="1"/>
<circle cx="625.7" cy="583.25" r="2.35" fill="#000" stroke="none" stroke-width="1"/>
<circle cx="631.7" cy="577.22" r="2.35" fill="#000" stroke="none" stroke-width="1"/>
<circle cx="542.9" cy="654.61" r="2.35" fill="#000" stroke="none" stroke-width="1"/>
<circle cx="545.9" cy="653.6" r="2.35" fill="#000" stroke="none" stroke-width="1"/>
<circle cx="548.9" cy="653.6" r="2.35" fill="#000" stroke="none" stroke-width="1"/>
<circle cx="574.9" cy="647.9" r="2.35" fill="#000" stroke="none" stroke-width="1"/>
<circle cx="577.9" cy="646.9" r="2.35" fill="#000" stroke="none" stroke-width="1"/>
<circle cx="580.9" cy="646.23" r="2.35" fill="#000" stroke="none" stroke-width="1"/>
<circle cx="606" cy="628.48" r="2.35" fill="#000" stroke="none" stroke-width="1"/>
<circle cx="609" cy="624.12" r="2.35" fill="#000" stroke="none" stroke-width="1"/>
<circle cx="612" cy="624.79" r="2.35" fill="#000" stroke="none" stroke-width="1"/>
<circle cx="637.7" cy="595.98" r="2.35" fill="#000" stroke="none" stroke-width="1"/>
<circle cx="640.7" cy="593.3" r="2.35" fill="#000" stroke="none" stroke-width="1"/>
<circle cx="643.7" cy="594.98" r="2.35" fill="#000" stroke="none" stroke-width="1"/>
<line x1="520.5" y1="546" x2="520.5" y2="681.3" stroke="#000" stroke-width="1.7"/>
<line x1="519.7" y1="680.4" x2="653.6" y2="680.4" stroke="#000" stroke-width="1.7"/>
<line x1="515.5" y1="680.4" x2="520.5" y2="680.4" stroke="#000" stroke-width="1.4"/>
<line x1="515.5" y1="646.9" x2="520.5" y2="646.9" stroke="#000" stroke-width="1.4"/>
<line x1="515.5" y1="613.4" x2="520.5" y2="613.4" stroke="#000" stroke-width="1.4"/>
<line x1="515.5" y1="579.9" x2="520.5" y2="579.9" stroke="#000" stroke-width="1.4"/>
<line x1="515.5" y1="546.4" x2="520.5" y2="546.4" stroke="#000" stroke-width="1.4"/>
<line x1="517.5" y1="663.65" x2="520.5" y2="663.65" stroke="#000" stroke-width="1.3"/>
<line x1="517.5" y1="630.15" x2="520.5" y2="630.15" stroke="#000" stroke-width="1.3"/>
<line x1="517.5" y1="596.65" x2="520.5" y2="596.65" stroke="#000" stroke-width="1.3"/>
<line x1="517.5" y1="563.15" x2="520.5" y2="563.15" stroke="#000" stroke-width="1.3"/>
<text x="513.2" y="684" font-size="10.2" text-anchor="end" fill="#111">0</text>
<text x="513.2" y="650.5" font-size="10.2" text-anchor="end" fill="#111">1</text>
<text x="513.2" y="617" font-size="10.2" text-anchor="end" fill="#111">2</text>
<text x="513.2" y="583.5" font-size="10.2" text-anchor="end" fill="#111">3</text>
<text x="513.2" y="550" font-size="10.2" text-anchor="end" fill="#111">4</text>
<line x1="539.9" y1="680.4" x2="539.9" y2="685.4" stroke="#000" stroke-width="1.4"/>
<line x1="571.9" y1="680.4" x2="571.9" y2="685.4" stroke="#000" stroke-width="1.4"/>
<line x1="603" y1="680.4" x2="603" y2="685.4" stroke="#000" stroke-width="1.4"/>
<line x1="634.7" y1="680.4" x2="634.7" y2="685.4" stroke="#000" stroke-width="1.4"/>
<text x="539.9" y="697.9" font-size="10.2" text-anchor="middle" fill="#111">1:4</text>
<text x="571.9" y="697.9" font-size="10.2" text-anchor="middle" fill="#111">1:2</text>
<text x="603" y="697.9" font-size="10.2" text-anchor="middle" fill="#111">1:1</text>
<text x="634.7" y="697.9" font-size="10.2" text-anchor="middle" fill="#111">2:1</text>
<text x="586.7" y="713.2" font-size="10.75" text-anchor="middle" font-weight="bold">NECTIN4 CAR-2 (E:T)</text>
<text x="497.8" y="613.4" font-size="10.85" text-anchor="middle" font-weight="bold" transform="rotate(-90 497.8 613.4)">Kill Index (1/AUC<tspan font-size="7.59" dy="2.7">0-72</tspan><tspan dy="-2.7">)</tspan></text>
<polyline points="533.3,647.9 533.3,640.4 545.8,640.4 545.8,647.9" stroke="#000" stroke-width="1.6" fill="none"/>
<text x="539.3" y="632.9" font-size="10.4" text-anchor="middle" fill="#111">0.1714</text>
<polyline points="565.3,626.9 565.3,619.5 577.9,619.5 577.9,626.9" stroke="#000" stroke-width="1.6" fill="none"/>
<text x="571.9" y="611.4" font-size="10.4" text-anchor="middle" fill="#111">&gt;0.9999</text>
<polyline points="596.5,604.5 596.5,596.7 610.2,596.7 610.2,604.5" stroke="#000" stroke-width="1.6" fill="none"/>
<text x="603.4" y="588.8" font-size="10.4" text-anchor="middle" fill="#111">0.0518</text>
<polyline points="628.4,568.8 628.4,560.7 642.5,560.7 642.5,568.8" stroke="#000" stroke-width="1.6" fill="none"/>
<text x="635.2" y="553.4" font-size="10.4" text-anchor="middle" fill="#111">&lt;0.0001</text>
<text x="13" y="742.8" font-size="18" font-weight="bold">l</text>
<line x1="77.1" y1="879.8" x2="77.1" y2="881.18" stroke="#58abad" stroke-width="0.9"/>
<line x1="74.5" y1="879.8" x2="79.7" y2="879.8" stroke="#58abad" stroke-width="0.9"/>
<line x1="74.5" y1="881.18" x2="79.7" y2="881.18" stroke="#58abad" stroke-width="0.9"/>
<line x1="105.48" y1="877.87" x2="105.48" y2="880.63" stroke="#58abad" stroke-width="0.9"/>
<line x1="102.88" y1="877.87" x2="108.08" y2="877.87" stroke="#58abad" stroke-width="0.9"/>
<line x1="102.88" y1="880.63" x2="108.08" y2="880.63" stroke="#58abad" stroke-width="0.9"/>
<line x1="138.59" y1="861.84" x2="138.59" y2="874" stroke="#58abad" stroke-width="0.9"/>
<line x1="135.99" y1="861.84" x2="141.19" y2="861.84" stroke="#58abad" stroke-width="0.9"/>
<line x1="135.99" y1="874" x2="141.19" y2="874" stroke="#58abad" stroke-width="0.9"/>
<line x1="171.7" y1="835.86" x2="171.7" y2="873.45" stroke="#58abad" stroke-width="0.9"/>
<line x1="169.1" y1="835.86" x2="174.3" y2="835.86" stroke="#58abad" stroke-width="0.9"/>
<line x1="169.1" y1="873.45" x2="174.3" y2="873.45" stroke="#58abad" stroke-width="0.9"/>
<line x1="204.81" y1="815.97" x2="204.81" y2="842.49" stroke="#58abad" stroke-width="0.9"/>
<line x1="202.21" y1="815.97" x2="207.41" y2="815.97" stroke="#58abad" stroke-width="0.9"/>
<line x1="202.21" y1="842.49" x2="207.41" y2="842.49" stroke="#58abad" stroke-width="0.9"/>
<line x1="233.19" y1="788.88" x2="233.19" y2="827.02" stroke="#58abad" stroke-width="0.9"/>
<line x1="230.59" y1="788.88" x2="235.79" y2="788.88" stroke="#58abad" stroke-width="0.9"/>
<line x1="230.59" y1="827.02" x2="235.79" y2="827.02" stroke="#58abad" stroke-width="0.9"/>
<line x1="105.48" y1="875.1" x2="105.48" y2="877.31" stroke="#e8639a" stroke-width="0.9"/>
<line x1="102.88" y1="875.1" x2="108.08" y2="875.1" stroke="#e8639a" stroke-width="0.9"/>
<line x1="102.88" y1="877.31" x2="108.08" y2="877.31" stroke="#e8639a" stroke-width="0.9"/>
<line x1="138.59" y1="857.97" x2="138.59" y2="864.6" stroke="#e8639a" stroke-width="0.9"/>
<line x1="135.99" y1="857.97" x2="141.19" y2="857.97" stroke="#e8639a" stroke-width="0.9"/>
<line x1="135.99" y1="864.6" x2="141.19" y2="864.6" stroke="#e8639a" stroke-width="0.9"/>
<line x1="171.7" y1="834.76" x2="171.7" y2="845.81" stroke="#e8639a" stroke-width="0.9"/>
<line x1="169.1" y1="834.76" x2="174.3" y2="834.76" stroke="#e8639a" stroke-width="0.9"/>
<line x1="169.1" y1="845.81" x2="174.3" y2="845.81" stroke="#e8639a" stroke-width="0.9"/>
<line x1="204.81" y1="824.26" x2="204.81" y2="833.1" stroke="#e8639a" stroke-width="0.9"/>
<line x1="202.21" y1="824.26" x2="207.41" y2="824.26" stroke="#e8639a" stroke-width="0.9"/>
<line x1="202.21" y1="833.1" x2="207.41" y2="833.1" stroke="#e8639a" stroke-width="0.9"/>
<line x1="233.19" y1="818.18" x2="233.19" y2="828.12" stroke="#e8639a" stroke-width="0.9"/>
<line x1="230.59" y1="818.18" x2="235.79" y2="818.18" stroke="#e8639a" stroke-width="0.9"/>
<line x1="230.59" y1="828.12" x2="235.79" y2="828.12" stroke="#e8639a" stroke-width="0.9"/>
<line x1="105.48" y1="873.72" x2="105.48" y2="876.49" stroke="#333" stroke-width="0.9"/>
<line x1="102.88" y1="873.72" x2="108.08" y2="873.72" stroke="#333" stroke-width="0.9"/>
<line x1="102.88" y1="876.49" x2="108.08" y2="876.49" stroke="#333" stroke-width="0.9"/>
<line x1="138.59" y1="856.31" x2="138.59" y2="862.94" stroke="#333" stroke-width="0.9"/>
<line x1="135.99" y1="856.31" x2="141.19" y2="856.31" stroke="#333" stroke-width="0.9"/>
<line x1="135.99" y1="862.94" x2="141.19" y2="862.94" stroke="#333" stroke-width="0.9"/>
<line x1="171.7" y1="834.76" x2="171.7" y2="843.6" stroke="#333" stroke-width="0.9"/>
<line x1="169.1" y1="834.76" x2="174.3" y2="834.76" stroke="#333" stroke-width="0.9"/>
<line x1="169.1" y1="843.6" x2="174.3" y2="843.6" stroke="#333" stroke-width="0.9"/>
<line x1="204.81" y1="815.97" x2="204.81" y2="829.23" stroke="#333" stroke-width="0.9"/>
<line x1="202.21" y1="815.97" x2="207.41" y2="815.97" stroke="#333" stroke-width="0.9"/>
<line x1="202.21" y1="829.23" x2="207.41" y2="829.23" stroke="#333" stroke-width="0.9"/>
<line x1="233.19" y1="808.78" x2="233.19" y2="824.81" stroke="#333" stroke-width="0.9"/>
<line x1="230.59" y1="808.78" x2="235.79" y2="808.78" stroke="#333" stroke-width="0.9"/>
<line x1="230.59" y1="824.81" x2="235.79" y2="824.81" stroke="#333" stroke-width="0.9"/>
<line x1="204.81" y1="870.13" x2="204.81" y2="872.89" stroke="#8a67b8" stroke-width="0.9"/>
<line x1="202.21" y1="870.13" x2="207.41" y2="870.13" stroke="#8a67b8" stroke-width="0.9"/>
<line x1="202.21" y1="872.89" x2="207.41" y2="872.89" stroke="#8a67b8" stroke-width="0.9"/>
<line x1="233.19" y1="859.63" x2="233.19" y2="865.16" stroke="#8a67b8" stroke-width="0.9"/>
<line x1="230.59" y1="859.63" x2="235.79" y2="859.63" stroke="#8a67b8" stroke-width="0.9"/>
<line x1="230.59" y1="865.16" x2="235.79" y2="865.16" stroke="#8a67b8" stroke-width="0.9"/>
<polyline points="77.1,881.18 105.48,879.53 138.59,879.25 171.7,879.25 204.81,871.51 233.19,862.39" stroke="#4b0c92" stroke-width="1.2" fill="none"/>
<polyline points="77.1,880.63 105.48,879.25 138.59,867.92 171.7,854.65 204.81,829.78 233.19,808.23" stroke="#1c8b8e" stroke-width="1.2" fill="none"/>
<polyline points="77.1,881.46 105.48,876.21 138.59,861.29 171.7,840.84 204.81,828.68 233.19,823.15" stroke="#f0146e" stroke-width="1.2" fill="none"/>
<polyline points="77.1,881.18 105.48,875.1 138.59,859.63 171.7,839.45 204.81,822.87 233.19,816.52" stroke="#000" stroke-width="1.2" fill="none"/>
<rect x="74.8" y="878.88" width="4.6" height="4.6" fill="#4b0c92" stroke="none" stroke-width="1"/>
<rect x="103.18" y="877.23" width="4.6" height="4.6" fill="#4b0c92" stroke="none" stroke-width="1"/>
<rect x="136.29" y="876.95" width="4.6" height="4.6" fill="#4b0c92" stroke="none" stroke-width="1"/>
<rect x="169.4" y="876.95" width="4.6" height="4.6" fill="#4b0c92" stroke="none" stroke-width="1"/>
<rect x="202.51" y="869.21" width="4.6" height="4.6" fill="#4b0c92" stroke="none" stroke-width="1"/>
<rect x="230.89" y="860.09" width="4.6" height="4.6" fill="#4b0c92" stroke="none" stroke-width="1"/>
<polygon points="77.1,883.23 74.5,878.55 79.7,878.55" fill="#1c8b8e" stroke="none" stroke-width="1"/>
<polygon points="105.48,881.85 102.88,877.17 108.08,877.17" fill="#1c8b8e" stroke="none" stroke-width="1"/>
<polygon points="138.59,870.52 135.99,865.84 141.19,865.84" fill="#1c8b8e" stroke="none" stroke-width="1"/>
<polygon points="171.7,857.25 169.1,852.57 174.3,852.57" fill="#1c8b8e" stroke="none" stroke-width="1"/>
<polygon points="204.81,832.38 202.21,827.7 207.41,827.7" fill="#1c8b8e" stroke="none" stroke-width="1"/>
<polygon points="233.19,810.83 230.59,806.15 235.79,806.15" fill="#1c8b8e" stroke="none" stroke-width="1"/>
<polygon points="77.1,878.86 74.5,883.54 79.7,883.54" fill="#f0146e" stroke="none" stroke-width="1"/>
<polygon points="105.48,873.61 102.88,878.29 108.08,878.29" fill="#f0146e" stroke="none" stroke-width="1"/>
<polygon points="138.59,858.69 135.99,863.37 141.19,863.37" fill="#f0146e" stroke="none" stroke-width="1"/>
<polygon points="171.7,838.24 169.1,842.92 174.3,842.92" fill="#f0146e" stroke="none" stroke-width="1"/>
<polygon points="204.81,826.08 202.21,830.76 207.41,830.76" fill="#f0146e" stroke="none" stroke-width="1"/>
<polygon points="233.19,820.55 230.59,825.23 235.79,825.23" fill="#f0146e" stroke="none" stroke-width="1"/>
<circle cx="77.1" cy="881.18" r="2.3" fill="#000" stroke="none" stroke-width="1"/>
<circle cx="105.48" cy="875.1" r="2.3" fill="#000" stroke="none" stroke-width="1"/>
<circle cx="138.59" cy="859.63" r="2.3" fill="#000" stroke="none" stroke-width="1"/>
<circle cx="171.7" cy="839.45" r="2.3" fill="#000" stroke="none" stroke-width="1"/>
<circle cx="204.81" cy="822.87" r="2.3" fill="#000" stroke="none" stroke-width="1"/>
<circle cx="233.19" cy="816.52" r="2.3" fill="#000" stroke="none" stroke-width="1"/>
<line x1="72" y1="773" x2="72" y2="885.2" stroke="#000" stroke-width="1.3"/>
<line x1="71.4" y1="884.5" x2="238.3" y2="884.5" stroke="#000" stroke-width="1.3"/>
<line x1="67.6" y1="884.5" x2="72" y2="884.5" stroke="#000" stroke-width="1.2"/>
<text x="66.3" y="887.9" font-size="9.6" text-anchor="end" fill="#111">0</text>
<line x1="67.6" y1="856.87" x2="72" y2="856.87" stroke="#000" stroke-width="1.2"/>
<text x="66.3" y="860.26" font-size="9.6" text-anchor="end" fill="#111">500</text>
<line x1="67.6" y1="829.23" x2="72" y2="829.23" stroke="#000" stroke-width="1.2"/>
<text x="66.3" y="832.63" font-size="9.6" text-anchor="end" fill="#111">1000</text>
<line x1="67.6" y1="801.6" x2="72" y2="801.6" stroke="#000" stroke-width="1.2"/>
<text x="66.3" y="805" font-size="9.6" text-anchor="end" fill="#111">1500</text>
<line x1="67.6" y1="773.96" x2="72" y2="773.96" stroke="#000" stroke-width="1.2"/>
<text x="66.3" y="777.36" font-size="9.6" text-anchor="end" fill="#111">2000</text>
<line x1="69.5" y1="870.68" x2="72" y2="870.68" stroke="#000" stroke-width="1.1"/>
<line x1="69.5" y1="843.05" x2="72" y2="843.05" stroke="#000" stroke-width="1.1"/>
<line x1="69.5" y1="815.41" x2="72" y2="815.41" stroke="#000" stroke-width="1.1"/>
<line x1="69.5" y1="787.78" x2="72" y2="787.78" stroke="#000" stroke-width="1.1"/>
<line x1="77.1" y1="884.5" x2="77.1" y2="889.2" stroke="#000" stroke-width="1.2"/>
<text x="77.1" y="899.4" font-size="9.6" text-anchor="middle" fill="#111">1</text>
<line x1="105.48" y1="884.5" x2="105.48" y2="889.2" stroke="#000" stroke-width="1.2"/>
<text x="105.48" y="899.4" font-size="9.6" text-anchor="middle" fill="#111">7</text>
<line x1="138.59" y1="884.5" x2="138.59" y2="889.2" stroke="#000" stroke-width="1.2"/>
<text x="138.59" y="899.4" font-size="9.6" text-anchor="middle" fill="#111">14</text>
<line x1="171.7" y1="884.5" x2="171.7" y2="889.2" stroke="#000" stroke-width="1.2"/>
<text x="171.7" y="899.4" font-size="9.6" text-anchor="middle" fill="#111">21</text>
<line x1="204.81" y1="884.5" x2="204.81" y2="889.2" stroke="#000" stroke-width="1.2"/>
<text x="204.81" y="899.4" font-size="9.6" text-anchor="middle" fill="#111">28</text>
<line x1="233.19" y1="884.5" x2="233.19" y2="889.2" stroke="#000" stroke-width="1.2"/>
<text x="233.19" y="899.4" font-size="9.6" text-anchor="middle" fill="#111">34</text>
<text x="155.15" y="916.1" font-size="11.2" text-anchor="middle" fill="#111">Days post IV Injection</text>
<text x="35.8" y="826.5" font-size="11.5" text-anchor="middle" fill="#111" transform="rotate(-90 35.8 826.5)">Tumor Volume (mm<tspan font-size="7.5" dy="-3.8">3</tspan><tspan dy="3.8">)</tspan></text>
<text x="213.7" y="844.5" font-size="9.3" fill="#111">p=0.002</text>
<text x="185.7" y="857.1" font-size="9.35" fill="#111">p&lt;0.0001</text>
<text x="228.8" y="858.8" font-size="9.1" fill="#111">***</text>
<text x="153.7" y="869.3" font-size="9.1" fill="#111">p=0.0019</text>
<text x="199" y="870.2" font-size="9.1" fill="#111">****</text>
<text x="169.2" y="877.4" font-size="9.1" fill="#111">**</text>
<polyline points="55.8,737.8 55.8,731.7 199.9,731.7 199.9,739.6" stroke="#777" stroke-width="0.9" fill="none"/>
<text x="127.8" y="724.7" font-size="8.9" text-anchor="middle" fill="#111">ns</text>
<line x1="49.6" y1="743" x2="62" y2="743" stroke="#000" stroke-width="1"/>
<circle cx="55.8" cy="743" r="2.1" fill="#000" stroke="none" stroke-width="1"/>
<text x="68.5" y="746.1" font-size="8.95" fill="#111">RT112-Parental + Vehicle</text>
<line x1="49.6" y1="759.1" x2="62" y2="759.1" stroke="#4b0c92" stroke-width="1"/>
<rect x="53.7" y="757" width="4.2" height="4.2" fill="#4b0c92" stroke="none" stroke-width="1"/>
<text x="68.5" y="762.1" font-size="8.95" fill="#111">RT112-Parental + EV 4mg/kg</text>
<line x1="193" y1="743.3" x2="205.5" y2="743.3" stroke="#f0146e" stroke-width="1"/>
<polygon points="199.2,740.9 196.8,745.22 201.6,745.22" fill="#f0146e" stroke="none" stroke-width="1"/>
<text x="212.4" y="746.1" font-size="8.95" fill="#111">RT112-EV Res. + Vehicle</text>
<line x1="193" y1="758.5" x2="205.5" y2="758.5" stroke="#1c8b8e" stroke-width="1"/>
<polygon points="199.2,760.9 196.8,756.58 201.6,756.58" fill="#1c8b8e" stroke="none" stroke-width="1"/>
<text x="212.4" y="761.9" font-size="8.95" fill="#111">RT112-EV Res. + EV 4mg/kg</text>
<polyline points="332.4,743.3 335.6,743.3 335.6,758.7 332.4,758.7" stroke="#555" stroke-width="0.9" fill="none"/>
<text x="338.9" y="753.7" font-size="8.8" fill="#111">ns</text>
<text x="396.6" y="742" font-size="18" font-weight="bold">m</text>
<line x1="504.9" y1="866.21" x2="504.9" y2="870.57" stroke="#f272ac" stroke-width="1.1"/>
<line x1="501.7" y1="866.21" x2="508.1" y2="866.21" stroke="#f272ac" stroke-width="1.1"/>
<line x1="521.9" y1="851.72" x2="521.9" y2="857.5" stroke="#f272ac" stroke-width="1.1"/>
<line x1="518.7" y1="851.72" x2="525.1" y2="851.72" stroke="#f272ac" stroke-width="1.1"/>
<line x1="539" y1="843.65" x2="539" y2="850.43" stroke="#f272ac" stroke-width="1.1"/>
<line x1="535.8" y1="843.65" x2="542.2" y2="843.65" stroke="#f272ac" stroke-width="1.1"/>
<line x1="555.8" y1="830.44" x2="555.8" y2="841.01" stroke="#f272ac" stroke-width="1.1"/>
<line x1="552.6" y1="830.44" x2="559" y2="830.44" stroke="#f272ac" stroke-width="1.1"/>
<line x1="572.8" y1="826.51" x2="572.8" y2="838.29" stroke="#f272ac" stroke-width="1.1"/>
<line x1="569.6" y1="826.51" x2="576" y2="826.51" stroke="#f272ac" stroke-width="1.1"/>
<line x1="590.1" y1="794.52" x2="590.1" y2="814.23" stroke="#f272ac" stroke-width="1.1"/>
<line x1="586.9" y1="794.52" x2="593.3" y2="794.52" stroke="#f272ac" stroke-width="1.1"/>
<line x1="607.1" y1="786.74" x2="607.1" y2="807.45" stroke="#f272ac" stroke-width="1.1"/>
<line x1="603.9" y1="786.74" x2="610.3" y2="786.74" stroke="#f272ac" stroke-width="1.1"/>
<line x1="623.9" y1="786.38" x2="623.9" y2="806.02" stroke="#f272ac" stroke-width="1.1"/>
<line x1="620.7" y1="786.38" x2="627.1" y2="786.38" stroke="#f272ac" stroke-width="1.1"/>
<polyline points="470.7,883.85 487.8,879.28 504.9,878.85 521.9,883.85 539,884.56 555.8,883.49 572.8,883.85 590.1,884.42 607.1,883.63 623.9,879.56" stroke="#5fb5b2" stroke-width="0.9" fill="none"/>
<polyline points="470.7,882.42 487.8,878.49 504.9,870.57 521.9,857.5 539,850.43 555.8,841.01 572.8,838.29 590.1,814.23 607.1,807.45 623.9,806.02" stroke="#f0368c" stroke-width="1.1" fill="none"/>
<rect x="468.3" y="881.45" width="4.8" height="4.8" fill="#11918e" stroke="none" stroke-width="1"/>
<rect x="485.4" y="876.88" width="4.8" height="4.8" fill="#11918e" stroke="none" stroke-width="1"/>
<rect x="502.5" y="876.45" width="4.8" height="4.8" fill="#11918e" stroke="none" stroke-width="1"/>
<rect x="519.5" y="881.45" width="4.8" height="4.8" fill="#11918e" stroke="none" stroke-width="1"/>
<rect x="536.6" y="882.16" width="4.8" height="4.8" fill="#11918e" stroke="none" stroke-width="1"/>
<rect x="553.4" y="881.09" width="4.8" height="4.8" fill="#11918e" stroke="none" stroke-width="1"/>
<rect x="570.4" y="881.45" width="4.8" height="4.8" fill="#11918e" stroke="none" stroke-width="1"/>
<rect x="587.7" y="882.02" width="4.8" height="4.8" fill="#11918e" stroke="none" stroke-width="1"/>
<rect x="604.7" y="881.23" width="4.8" height="4.8" fill="#11918e" stroke="none" stroke-width="1"/>
<rect x="621.5" y="877.16" width="4.8" height="4.8" fill="#11918e" stroke="none" stroke-width="1"/>
<circle cx="470.7" cy="882.42" r="2.4" fill="#f0368c" stroke="none" stroke-width="1"/>
<circle cx="487.8" cy="878.49" r="2.4" fill="#f0368c" stroke="none" stroke-width="1"/>
<circle cx="504.9" cy="870.57" r="2.4" fill="#f0368c" stroke="none" stroke-width="1"/>
<circle cx="521.9" cy="857.5" r="2.4" fill="#f0368c" stroke="none" stroke-width="1"/>
<circle cx="539" cy="850.43" r="2.4" fill="#f0368c" stroke="none" stroke-width="1"/>
<circle cx="555.8" cy="841.01" r="2.4" fill="#f0368c" stroke="none" stroke-width="1"/>
<circle cx="572.8" cy="838.29" r="2.4" fill="#f0368c" stroke="none" stroke-width="1"/>
<circle cx="590.1" cy="814.23" r="2.4" fill="#f0368c" stroke="none" stroke-width="1"/>
<circle cx="607.1" cy="807.45" r="2.4" fill="#f0368c" stroke="none" stroke-width="1"/>
<circle cx="623.9" cy="806.02" r="2.4" fill="#f0368c" stroke="none" stroke-width="1"/>
<line x1="461.3" y1="779" x2="461.3" y2="892.7" stroke="#000" stroke-width="2"/>
<line x1="460.3" y1="891.7" x2="632.6" y2="891.7" stroke="#000" stroke-width="2"/>
<line x1="457.2" y1="891.7" x2="461.3" y2="891.7" stroke="#000" stroke-width="1.6"/>
<text x="455.6" y="894.7" font-size="8.3" text-anchor="end" font-weight="bold">0</text>
<line x1="457.2" y1="856" x2="461.3" y2="856" stroke="#000" stroke-width="1.6"/>
<text x="455.6" y="859" font-size="8.3" text-anchor="end" font-weight="bold">500</text>
<line x1="457.2" y1="820.3" x2="461.3" y2="820.3" stroke="#000" stroke-width="1.6"/>
<text x="455.6" y="823.3" font-size="8.3" text-anchor="end" font-weight="bold">1000</text>
<line x1="457.2" y1="784.6" x2="461.3" y2="784.6" stroke="#000" stroke-width="1.6"/>
<text x="455.6" y="787.6" font-size="8.3" text-anchor="end" font-weight="bold">1500</text>
<line x1="459" y1="873.85" x2="461.3" y2="873.85" stroke="#000" stroke-width="1.4"/>
<line x1="459" y1="838.15" x2="461.3" y2="838.15" stroke="#000" stroke-width="1.4"/>
<line x1="459" y1="802.45" x2="461.3" y2="802.45" stroke="#000" stroke-width="1.4"/>
<line x1="470.7" y1="891.7" x2="470.7" y2="896" stroke="#000" stroke-width="1.6"/>
<text x="470.7" y="905.8" font-size="9" text-anchor="middle" font-weight="bold">1</text>
<line x1="487.8" y1="891.7" x2="487.8" y2="896" stroke="#000" stroke-width="1.6"/>
<text x="487.8" y="905.8" font-size="9" text-anchor="middle" font-weight="bold">3</text>
<line x1="504.9" y1="891.7" x2="504.9" y2="896" stroke="#000" stroke-width="1.6"/>
<text x="504.9" y="905.8" font-size="9" text-anchor="middle" font-weight="bold">6</text>
<line x1="521.9" y1="891.7" x2="521.9" y2="896" stroke="#000" stroke-width="1.6"/>
<text x="521.9" y="905.8" font-size="9" text-anchor="middle" font-weight="bold">10</text>
<line x1="539" y1="891.7" x2="539" y2="896" stroke="#000" stroke-width="1.6"/>
<text x="539" y="905.8" font-size="9" text-anchor="middle" font-weight="bold">13</text>
<line x1="555.8" y1="891.7" x2="555.8" y2="896" stroke="#000" stroke-width="1.6"/>
<text x="555.8" y="905.8" font-size="9" text-anchor="middle" font-weight="bold">17</text>
<line x1="572.8" y1="891.7" x2="572.8" y2="896" stroke="#000" stroke-width="1.6"/>
<text x="572.8" y="905.8" font-size="9" text-anchor="middle" font-weight="bold">19</text>
<line x1="590.1" y1="891.7" x2="590.1" y2="896" stroke="#000" stroke-width="1.6"/>
<text x="590.1" y="905.8" font-size="9" text-anchor="middle" font-weight="bold">24</text>
<line x1="607.1" y1="891.7" x2="607.1" y2="896" stroke="#000" stroke-width="1.6"/>
<text x="607.1" y="905.8" font-size="9" text-anchor="middle" font-weight="bold">27</text>
<line x1="623.9" y1="891.7" x2="623.9" y2="896" stroke="#000" stroke-width="1.6"/>
<text x="623.9" y="905.8" font-size="9" text-anchor="middle" font-weight="bold">31</text>
<text x="485.2" y="918.8" font-size="9.1" font-weight="bold">Days post IV CAR T injection</text>
<text x="431.6" y="836" font-size="10.4" text-anchor="middle" font-weight="bold" transform="rotate(-90 431.6 836)">Tumor Volume (mm<tspan font-size="7" dy="-3.6">3</tspan><tspan dy="3.6">)</tspan></text>
<text x="571.9" y="860.3" font-size="8.9" fill="#222">p=0.04</text>
<text x="610.2" y="858.8" font-size="8.9" fill="#222">p=0.03</text>
<text x="588.8" y="870" font-size="8.9" fill="#222">p=0.04</text>
<text x="590.1" y="881" font-size="12" text-anchor="middle" fill="#222">*</text>
<text x="607.1" y="881" font-size="12" text-anchor="middle" fill="#222">*</text>
<text x="623.9" y="875.5" font-size="12" text-anchor="middle" fill="#222">*</text>
<line x1="464.4" y1="754.4" x2="476.9" y2="754.4" stroke="#f0368c" stroke-width="1"/>
<circle cx="470.6" cy="754.4" r="2.2" fill="#f0368c" stroke="none" stroke-width="1"/>
<text x="483.7" y="757.7" font-size="9.12" fill="#111">RT112-EV Res. + NTD T cells (n=5)</text>
<line x1="466.2" y1="770.4" x2="478.7" y2="770.4" stroke="#11918e" stroke-width="1"/>
<rect x="470.2" y="768.2" width="4.4" height="4.4" fill="#11918e" stroke="none" stroke-width="1"/>
<text x="485.7" y="773.6" font-size="9.12" fill="#111">RT112-EV Res. + NECTIN4 CAR T cells (n=3)</text>
</svg>
</body></html>
